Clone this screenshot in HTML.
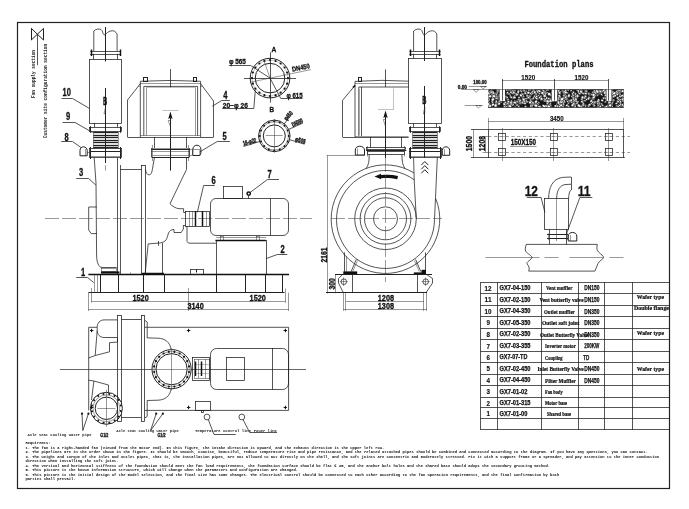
<!DOCTYPE html>
<html><head><meta charset="utf-8"><title>Fan drawing</title>
<style>
html,body{margin:0;padding:0;background:#fff;}
svg{display:block;filter:grayscale(1);}
.m{fill:none;stroke:#1c1c1c;stroke-width:.75;}
.t{fill:none;stroke:#333;stroke-width:.5;}
.g{fill:none;stroke:#777;stroke-width:.45;}
.k{fill:none;stroke:#111;stroke-width:1.5;}
.b{fill:none;stroke:#222;stroke-width:1;}
.c{fill:none;stroke:#444;stroke-width:.55;stroke-dasharray:14 3;}
.f{fill:#111;stroke:none;}
.w{fill:#fff;stroke:none;}
text{font-family:"Liberation Sans",sans-serif;fill:#111;}
.d,.n,.N{stroke:#111;stroke-width:.3;}
.d{font-size:8.2px;font-weight:bold;}
.n{font-size:10px;font-weight:bold;}
.N{font-size:15.4px;font-weight:bold;}
.s{font-family:"Liberation Mono",monospace;font-size:5.2px;fill:#222;font-weight:bold;}
.q{font-family:"Liberation Mono",monospace;font-size:4.4px;fill:#111;font-weight:bold;}
.fp{font-family:"Liberation Mono",monospace;font-size:8.6px;fill:#111;}
.tn{font-size:7.6px;font-weight:bold;stroke:#111;stroke-width:.15;}
.tc{font-size:6.8px;font-weight:bold;stroke:#111;stroke-width:.25;}
.tm{font-family:"Liberation Serif",serif;font-size:5.6px;font-weight:bold;stroke:#111;stroke-width:.2;}
.ts{font-size:5.6px;font-weight:bold;}
</style></head>
<body>
<svg width="689" height="509" viewBox="0 0 689 509">
<rect x="0" y="0" width="689" height="509" fill="#fff"/>
<rect class="b" x="17.5" y="22.5" width="652.0" height="466.0" style="stroke-width:1.2"/>
<line class="b" x1="31.5" y1="28.4" x2="31.5" y2="40.0" />
<line class="b" x1="43.5" y1="28.4" x2="43.5" y2="40.0" />
<line class="b" x1="31.3" y1="28.4" x2="43.5" y2="40.0" />
<line class="b" x1="31.3" y1="40.0" x2="43.5" y2="28.4" />
<text class="s" transform="translate(35,98) rotate(-90)" textLength="48" lengthAdjust="spacingAndGlyphs">Fan supply section</text>
<line class="m" x1="37.5" y1="34.2" x2="37.5" y2="65.2" />
<text class="s" transform="translate(46.6,138.2) rotate(-90)" textLength="94.4" lengthAdjust="spacingAndGlyphs">Customer site configuration section</text>
<path class="m" d="M93.8,51 L93.8,31 C95.5,29 99,28.6 101,29.5 C102.8,30.5 102.6,33.8 104,34.8 C105.5,35.6 106,33.5 107.5,32.5 C109.5,31 112.5,30.2 114.5,31.2 C115.8,32 116.5,33 117.1,34 L117.1,51" />
<line class="m" x1="90.2" y1="51.5" x2="120.9" y2="51.5" />
<line class="m" x1="90.2" y1="54.5" x2="120.9" y2="54.5" />
<line class="k" x1="91.5" y1="49.5" x2="91.5" y2="56.0" />
<line class="k" x1="120.5" y1="49.5" x2="120.5" y2="56.0" />
<line class="m" x1="93.5" y1="53.8" x2="93.5" y2="59.5" />
<line class="m" x1="117.5" y1="53.8" x2="117.5" y2="59.5" />
<rect class="m" x="89.5" y="59.5" width="32.0" height="64.0" />
<line class="b" x1="105.5" y1="27.0" x2="105.5" y2="61.0" />
<line class="b" x1="105.5" y1="88.0" x2="105.5" y2="163.0" />
<line class="t" x1="105.5" y1="165.5" x2="105.5" y2="170.5" />
<line class="t" x1="105.5" y1="60.0" x2="105.5" y2="62.0" />
<text class="n" x="102.9" y="104.5"  textLength="4.2" lengthAdjust="spacingAndGlyphs">B</text>
<path class="t" d="M105.5,107 L104,114 L105.5,113 Z" />
<text class="n" x="62.6" y="96.0"  textLength="8.3" lengthAdjust="spacingAndGlyphs">10</text>
<path class="m" d="M61.5,98.5 L72.5,98.5 L89.5,108.5" />
<text class="n" x="66.1" y="120.0"  textLength="4.2" lengthAdjust="spacingAndGlyphs">9</text>
<path class="m" d="M62.5,122.5 L75.0,122.5 L92.5,132.5" />
<line class="m" x1="94.5" y1="123.0" x2="94.5" y2="127.3" />
<line class="m" x1="117.5" y1="123.0" x2="117.5" y2="127.3" />
<rect class="m" x="89.5" y="127.5" width="32.0" height="4.0" />
<line class="b" x1="90.5" y1="126.3" x2="90.5" y2="132.8" />
<line class="b" x1="120.5" y1="126.3" x2="120.5" y2="132.8" />
<line class="b" x1="93.3" y1="132.5" x2="118.0" y2="132.5" style="stroke-width:1.3"/>
<line class="b" x1="93.3" y1="135.5" x2="118.0" y2="135.5" style="stroke-width:1.3"/>
<line class="b" x1="93.3" y1="137.5" x2="118.0" y2="137.5" style="stroke-width:1.3"/>
<line class="b" x1="93.3" y1="140.5" x2="118.0" y2="140.5" style="stroke-width:1.3"/>
<line class="b" x1="93.3" y1="142.5" x2="118.0" y2="142.5" style="stroke-width:1.3"/>
<line class="b" x1="93.3" y1="145.5" x2="118.0" y2="145.5" style="stroke-width:1.3"/>
<line class="b" x1="93.3" y1="147.5" x2="118.0" y2="147.5" style="stroke-width:1.3"/>
<line class="t" x1="93.5" y1="132.0" x2="93.5" y2="148.5" />
<line class="t" x1="118.5" y1="132.0" x2="118.5" y2="148.5" />
<rect class="m" x="89.5" y="148.5" width="32.0" height="9.0" />
<line class="b" x1="89.9" y1="151.5" x2="121.3" y2="151.5" />
<line class="t" x1="89.9" y1="156.5" x2="121.3" y2="156.5" />
<line class="b" x1="90.5" y1="147.0" x2="90.5" y2="159.0" />
<line class="b" x1="120.5" y1="147.0" x2="120.5" y2="159.0" />
<text class="n" x="64.6" y="140.5"  textLength="4.2" lengthAdjust="spacingAndGlyphs">8</text>
<path class="m" d="M61.2,141.5 L72.5,141.5 L81.0,147.5" />
<path class="b" d="M80,155.8 L80,150.5 C80,145.6 87,145.6 87.2,150.5 L87.2,155.8 Z" />
<line class="t" x1="85.5" y1="149.0" x2="85.5" y2="155.8" />
<line class="t" x1="87.2" y1="152.5" x2="89.9" y2="152.5" />
<path class="m" d="M94.2,157.6 L96,183 L96.6,256 C96.8,262 98.5,267.5 102,267.5 L116.7,267.5" />
<rect class="t" x="101.5" y="268.5" width="15.0" height="3.0" />
<line class="m" x1="117.5" y1="157.6" x2="117.5" y2="274.5" />
<line class="m" x1="120.5" y1="165.0" x2="120.5" y2="274.5" />
<text class="n" x="79.1" y="176.3"  textLength="4.2" lengthAdjust="spacingAndGlyphs">3</text>
<path class="m" d="M76.2,178.5 L88.6,178.5 L95.8,185.0" />
<path class="m" d="M96.7,207 L88.7,207 L88.7,230 L91.2,233.6 L97,233.6" />
<line class="m" x1="120.4" y1="169.5" x2="141.2" y2="169.5" />
<rect class="m" x="141.5" y="165.5" width="4.0" height="109.0" />
<line class="c" x1="45.0" y1="218.5" x2="312.0" y2="218.5" />
<path class="m" d="M140.3,137 L140.3,81.3 Q170.4,79.6 200.6,81.3 L200.6,137" />
<line class="t" x1="140.3" y1="83.5" x2="200.6" y2="83.5" />
<line class="m" x1="127.5" y1="137.5" x2="213.6" y2="137.5" />
<rect class="b" x="143.5" y="77.5" width="4.0" height="4.0" />
<rect class="b" x="193.5" y="77.5" width="3.0" height="4.0" />
<path class="m" d="M143.8,135.7 L143.8,86.4 L197.6,86.4 L197.6,135.7" />
<line class="t" x1="140.3" y1="135.5" x2="200.6" y2="135.5" />
<line class="t" x1="146.5" y1="87.5" x2="146.5" y2="135.7" />
<line class="t" x1="195.5" y1="87.5" x2="195.5" y2="135.7" />
<line class="g" x1="146.0" y1="87.5" x2="195.4" y2="87.5" />
<path class="m" d="M140.3,83.7 L127.5,100.0 L127.5,137.0" />
<path class="m" d="M200.6,83.7 L213.5,101.0 L213.5,137.0" />
<line class="t" x1="138.5" y1="86.5" x2="140.3" y2="86.5" />
<line class="t" x1="200.6" y1="86.5" x2="202.4" y2="86.5" />
<line class="m" x1="170.5" y1="69.0" x2="170.5" y2="87.3" />
<line class="b" x1="170.5" y1="118.0" x2="170.5" y2="170.6" />
<line class="g" x1="162.4" y1="110.5" x2="178.6" y2="110.5" />
<path class="f" d="M170.4,111.5 L168.2,119 L170.4,117.8 L172.6,119 Z" />
<path class="t" d="M170.4,126.5 L168.2,120.5 L170.4,120.5" />
<text class="n" x="223.2" y="98.7"  textLength="4.2" lengthAdjust="spacingAndGlyphs">4</text>
<path class="m" d="M229.8,100.5 L221.8,100.5 L212.3,106.2" />
<line class="m" x1="154.5" y1="137.0" x2="154.5" y2="148.0" />
<line class="m" x1="186.5" y1="137.0" x2="186.5" y2="148.0" />
<line class="t" x1="151.6" y1="148.5" x2="189.4" y2="148.5" />
<line class="b" x1="151.6" y1="149.5" x2="189.4" y2="149.5" />
<line class="t" x1="151.6" y1="151.5" x2="189.4" y2="151.5" />
<line class="t" x1="152.5" y1="155.5" x2="188.5" y2="155.5" />
<line class="b" x1="151.6" y1="157.5" x2="189.4" y2="157.5" />
<line class="m" x1="151.5" y1="148.0" x2="151.5" y2="157.0" />
<line class="m" x1="189.5" y1="148.0" x2="189.5" y2="157.0" />
<line class="t" x1="152.5" y1="145.0" x2="152.5" y2="161.0" />
<line class="t" x1="188.5" y1="145.0" x2="188.5" y2="161.0" />
<path class="b" d="M192.8,155.5 L192.8,149.5 C192.8,143.8 200.9,143.8 200.9,149.5 L200.9,153 L199.8,155.5 Z" />
<path class="t" d="M192.8,149.5 L199.8,149.5 L199.8,155.5" />
<rect class="t" x="189.5" y="149.5" width="3.0" height="6.0" />
<text class="n" x="222.4" y="139.9"  textLength="4.2" lengthAdjust="spacingAndGlyphs">5</text>
<path class="m" d="M229.8,141.5 L217.3,141.5 L199.9,151.8" />
<path class="m" d="M154.5,157 L152.6,168 C152,172.5 151,174.8 149.2,174.8 C146.8,174.8 146,172.5 145.4,169.5" />
<path class="m" d="M186.5,157 L186.5,169.5 L170,203.7 C172,206 176,208.5 179,208.7 L183.6,208.7 L183.6,212.4" />
<line class="m" x1="183.6" y1="212.5" x2="185.5" y2="212.5" />
<line class="m" x1="183.6" y1="225.5" x2="185.5" y2="225.5" />
<rect class="m" x="185.5" y="211.5" width="24.0" height="15.0" />
<line class="k" x1="195.5" y1="211.0" x2="195.5" y2="226.2" />
<line class="k" x1="202.5" y1="211.0" x2="202.5" y2="226.2" />
<line class="t" x1="189.5" y1="211.0" x2="189.5" y2="226.2" />
<line class="t" x1="192.5" y1="211.0" x2="192.5" y2="226.2" />
<line class="t" x1="206.5" y1="211.0" x2="206.5" y2="226.2" />
<text class="n" x="211.6" y="183.7"  textLength="4.2" lengthAdjust="spacingAndGlyphs">6</text>
<path class="m" d="M214.8,185.5 L203.6,185.5 L197.3,212.4" />
<path class="m" d="M183.4,225 L183.4,229 L181.2,232.5 L174,232.5 L174,229.5 C171,229.5 169.5,231 168.5,233 C167.5,236 167,239.5 165,241 C163,242.5 161,242.8 159.5,243 L148.2,243.9 L145.2,273" />
<line class="m" x1="158.5" y1="241.0" x2="158.5" y2="245.8" />
<line class="m" x1="162.5" y1="243.0" x2="162.5" y2="274.5" />
<path class="m" d="M187,226.2 L187,240.6 C187,242.4 188,243.2 190,243.2 L216.2,243.2" />
<rect class="m" x="210.5" y="198.5" width="78.0" height="37.0" rx="5.5" ry="5.5"/>
<line class="m" x1="270.5" y1="198.7" x2="270.5" y2="235.7" />
<rect class="m" x="223.5" y="186.5" width="19.0" height="12.0" />
<circle class="k" cx="248.7" cy="193.6" r="1.7" />
<line class="m" x1="248.5" y1="195.6" x2="248.5" y2="198.7" />
<text class="n" x="267.6" y="178.0"  textLength="4.2" lengthAdjust="spacingAndGlyphs">7</text>
<path class="m" d="M279.0,179.5 L267.5,179.5 L250.2,192.4" />
<line class="t" x1="216.2" y1="237.5" x2="266.1" y2="237.5" />
<rect class="t" x="220.5" y="236.5" width="3.0" height="4.0" />
<rect class="t" x="256.5" y="236.5" width="3.0" height="4.0" />
<rect class="m" x="216.5" y="240.5" width="50.0" height="34.0" />
<line class="k" x1="215.4" y1="240.5" x2="265.8" y2="240.5" />
<text class="n" x="280.4" y="252.9"  textLength="4.2" lengthAdjust="spacingAndGlyphs">2</text>
<path class="m" d="M287.3,254.5 L277.3,254.5 L266.1,258.6" />
<line class="k" x1="88.4" y1="274.5" x2="289.0" y2="274.5" style="stroke-width:1.3"/>
<line class="b" x1="88.4" y1="292.5" x2="284.5" y2="292.5" />
<line class="b" x1="100.5" y1="274.6" x2="100.5" y2="292.8" />
<line class="b" x1="118.5" y1="274.6" x2="118.5" y2="292.8" />
<line class="b" x1="143.5" y1="274.6" x2="143.5" y2="292.8" />
<line class="b" x1="164.5" y1="274.6" x2="164.5" y2="292.8" />
<line class="b" x1="216.5" y1="274.6" x2="216.5" y2="292.8" />
<line class="b" x1="245.5" y1="274.6" x2="245.5" y2="292.8" />
<line class="b" x1="265.5" y1="274.6" x2="265.5" y2="292.8" />
<line class="b" x1="282.5" y1="274.6" x2="282.5" y2="292.8" />
<line class="t" x1="94.5" y1="274.6" x2="94.5" y2="292.8" />
<line class="t" x1="97.5" y1="274.6" x2="97.5" y2="292.8" />
<line class="k" x1="101.0" y1="272.5" x2="119.5" y2="272.5" style="stroke-width:2.2"/>
<line class="k" x1="141.8" y1="273.5" x2="164.0" y2="273.5" />
<rect class="m" x="190.5" y="269.5" width="13.0" height="5.0" />
<line class="b" x1="196.5" y1="269.3" x2="196.5" y2="272.5" />
<line class="t" x1="130.5" y1="272.5" x2="130.5" y2="274.5" />
<text class="n" x="81.1" y="276.2"  textLength="4.2" lengthAdjust="spacingAndGlyphs">1</text>
<path class="m" d="M76.2,277.5 L87.5,277.5 L93.7,282.5" />
<line class="t" x1="88.5" y1="292.8" x2="88.5" y2="311.0" />
<line class="t" x1="91.5" y1="288.0" x2="91.5" y2="302.5" />
<line class="t" x1="188.5" y1="288.0" x2="188.5" y2="311.0" />
<line class="t" x1="285.5" y1="288.5" x2="285.5" y2="302.8" />
<line class="t" x1="288.5" y1="292.6" x2="288.5" y2="311.0" />
<line class="t" x1="91.3" y1="301.5" x2="285.4" y2="301.5" />
<line class="t" x1="88.4" y1="309.5" x2="288.6" y2="309.5" />
<text class="d" x="132.5" y="300.8"  textLength="16.2" lengthAdjust="spacingAndGlyphs">1520</text>
<text class="d" x="249.6" y="300.8"  textLength="16.2" lengthAdjust="spacingAndGlyphs">1520</text>
<text class="d" x="187.5" y="309.0"  textLength="16.2" lengthAdjust="spacingAndGlyphs">3140</text>
<circle class="b" cx="270.0" cy="78.1" r="19.8" />
<circle class="b" cx="270.0" cy="78.1" r="14.8" />
<circle class="g" cx="270.0" cy="78.1" r="17.9" />
<circle class="f" cx="288.0" cy="78.1" r="1.1" />
<circle class="f" cx="287.1" cy="83.7" r="1.1" />
<circle class="f" cx="284.6" cy="88.7" r="1.1" />
<circle class="f" cx="280.6" cy="92.7" r="1.1" />
<circle class="f" cx="275.6" cy="95.2" r="1.1" />
<circle class="f" cx="270.0" cy="96.1" r="1.1" />
<circle class="f" cx="264.4" cy="95.2" r="1.1" />
<circle class="f" cx="259.4" cy="92.7" r="1.1" />
<circle class="f" cx="255.4" cy="88.7" r="1.1" />
<circle class="f" cx="252.9" cy="83.7" r="1.1" />
<circle class="f" cx="252.0" cy="78.1" r="1.1" />
<circle class="f" cx="252.9" cy="72.5" r="1.1" />
<circle class="f" cx="255.4" cy="67.5" r="1.1" />
<circle class="f" cx="259.4" cy="63.5" r="1.1" />
<circle class="f" cx="264.4" cy="61.0" r="1.1" />
<circle class="f" cx="270.0" cy="60.1" r="1.1" />
<circle class="f" cx="275.6" cy="61.0" r="1.1" />
<circle class="f" cx="280.6" cy="63.5" r="1.1" />
<circle class="f" cx="284.6" cy="67.5" r="1.1" />
<circle class="f" cx="287.1" cy="72.5" r="1.1" />
<line class="m" x1="244.0" y1="78.5" x2="296.0" y2="78.5" />
<line class="m" x1="270.5" y1="52.3" x2="270.5" y2="102.6" />
<text class="d" x="271.5" y="52.3" style="font-size:7.8px" textLength="4.8" lengthAdjust="spacingAndGlyphs">A</text>
<text class="d" x="269.6" y="112.4" style="font-size:7.8px" textLength="4.6" lengthAdjust="spacingAndGlyphs">B</text>
<text class="d" x="228.9" y="64.0" style="font-size:7.3px" textLength="17" lengthAdjust="spacingAndGlyphs">φ 565</text>
<path class="m" d="M228.9,65.5 L250.6,65.5 L270.0,78.1" />
<line class="t" x1="250.3" y1="82.2" x2="311.0" y2="69.6" />
<text class="d" style="font-size:7px" transform="translate(292.5,71.8) rotate(-12)" textLength="18" lengthAdjust="spacingAndGlyphs">DN450</text>
<text class="d" x="286.4" y="97.5" style="font-size:7.3px" textLength="16.2" lengthAdjust="spacingAndGlyphs">φ 615</text>
<path class="m" d="M302.5,98.5 L280.8,98.5 L270.0,78.1" />
<line class="t" x1="270.0" y1="78.1" x2="263.8" y2="60.2" />
<text class="d" x="222.8" y="107.7" style="font-size:7.3px" textLength="25" lengthAdjust="spacingAndGlyphs">20−φ 26</text>
<path class="m" d="M222.3,108.5 L253.8,108.5 L255.3,90.4" />
<circle class="b" cx="274.3" cy="135.9" r="15.8" />
<circle class="b" cx="274.3" cy="135.9" r="11.0" />
<circle class="t" cx="274.3" cy="135.9" r="14.3" />
<circle class="f" cx="288.7" cy="135.9" r="1.0" />
<circle class="f" cx="287.6" cy="141.4" r="1.0" />
<circle class="f" cx="284.5" cy="146.1" r="1.0" />
<circle class="f" cx="279.8" cy="149.2" r="1.0" />
<circle class="f" cx="274.3" cy="150.3" r="1.0" />
<circle class="f" cx="268.8" cy="149.2" r="1.0" />
<circle class="f" cx="264.1" cy="146.1" r="1.0" />
<circle class="f" cx="261.0" cy="141.4" r="1.0" />
<circle class="f" cx="259.9" cy="135.9" r="1.0" />
<circle class="f" cx="261.0" cy="130.4" r="1.0" />
<circle class="f" cx="264.1" cy="125.7" r="1.0" />
<circle class="f" cx="268.8" cy="122.6" r="1.0" />
<circle class="f" cx="274.3" cy="121.5" r="1.0" />
<circle class="f" cx="279.8" cy="122.6" r="1.0" />
<circle class="f" cx="284.5" cy="125.7" r="1.0" />
<circle class="f" cx="287.6" cy="130.4" r="1.0" />
<line class="t" x1="265.7" y1="135.5" x2="282.7" y2="135.5" />
<line class="t" x1="274.5" y1="119.0" x2="274.5" y2="152.5" />
<text class="d" style="font-size:6.4px;stroke-width:.4" transform="translate(286.5,121) rotate(-48)" textLength="10" lengthAdjust="spacingAndGlyphs">φ460</text>
<line class="m" x1="284.0" y1="124.0" x2="289.5" y2="117.5" />
<text class="d" style="font-size:6.4px;stroke-width:.4" transform="translate(293,127) rotate(-25)" textLength="11.5" lengthAdjust="spacingAndGlyphs">DN350</text>
<line class="m" x1="288.5" y1="129.5" x2="303.0" y2="123.0" />
<text class="d" style="font-size:6.4px;stroke-width:.4" transform="translate(294.8,141) rotate(16)" textLength="10.5" lengthAdjust="spacingAndGlyphs">φ505</text>
<line class="m" x1="290.0" y1="139.8" x2="304.5" y2="144.2" />
<text class="d" style="font-size:6.4px;stroke-width:.4" transform="translate(243.5,145.5) rotate(-14)" textLength="13.5" lengthAdjust="spacingAndGlyphs">16-φ22</text>
<line class="m" x1="243.5" y1="146.5" x2="259.5" y2="141.5" />
<path class="m" d="M144.9,327.3 L288.6,327.3 L288.6,410.4 L144.9,410.4" />
<path class="m" d="M97,327.3 L88.7,327.3 L88.7,410.4" />
<line class="t" x1="60.0" y1="369.5" x2="306.0" y2="369.5" />
<rect class="m" x="117.5" y="315.5" width="4.0" height="106.0" />
<rect class="m" x="141.5" y="315.5" width="3.0" height="106.0" />
<line class="m" x1="121.2" y1="319.5" x2="141.1" y2="319.5" />
<line class="m" x1="121.2" y1="417.5" x2="141.1" y2="417.5" />
<path class="m" d="M117.4,319.9 L104,319.9 C100,320 97.2,323 97.2,327.2 L97.2,330.7 C97.2,334.5 100,337.4 104,337.5 L117.4,337.5" />
<path class="m" d="M117.5,338.0 L117.5,342.0 L109.5,342.7 L109.5,351.8 L95.2,355.5 L88.5,358.0" />
<line class="m" x1="97.2" y1="330.7" x2="95.2" y2="355.5" />
<path class="m" d="M88.5,380.2 L93.9,381.0 L108.5,385.0 L108.5,393.0" />
<line class="m" x1="93.9" y1="381.0" x2="91.5" y2="400.0" />
<circle class="w" cx="106.4" cy="408.3" r="16.0" />
<circle class="b" cx="106.4" cy="408.3" r="16.0" />
<circle class="t" cx="106.4" cy="408.3" r="13.4" />
<circle class="b" cx="106.4" cy="408.3" r="11.2" />
<circle class="f" cx="120.8" cy="411.1" r="1.0" />
<circle class="f" cx="118.7" cy="416.4" r="1.0" />
<circle class="f" cx="114.6" cy="420.5" r="1.0" />
<circle class="f" cx="109.3" cy="422.7" r="1.0" />
<circle class="f" cx="103.6" cy="422.7" r="1.0" />
<circle class="f" cx="98.3" cy="420.6" r="1.0" />
<circle class="f" cx="94.2" cy="416.5" r="1.0" />
<circle class="f" cx="92.0" cy="411.2" r="1.0" />
<circle class="f" cx="92.0" cy="405.5" r="1.0" />
<circle class="f" cx="94.1" cy="400.2" r="1.0" />
<circle class="f" cx="98.2" cy="396.1" r="1.0" />
<circle class="f" cx="103.5" cy="393.9" r="1.0" />
<circle class="f" cx="109.2" cy="393.9" r="1.0" />
<circle class="f" cx="114.5" cy="396.0" r="1.0" />
<circle class="f" cx="118.6" cy="400.1" r="1.0" />
<circle class="f" cx="120.8" cy="405.4" r="1.0" />
<line class="t" x1="97.4" y1="408.5" x2="115.4" y2="408.5" />
<line class="t" x1="106.5" y1="389.8" x2="106.5" y2="426.8" />
<line class="m" x1="117.5" y1="395.0" x2="117.5" y2="421.0" />
<path class="m" d="M145,320.5 L147.2,322 L147.2,337.9 L158,338.2 C165,338.5 170,342 171.2,349.8" />
<path class="m" d="M145,417.9 L147.2,416.4 L147.2,400.5 L158,400.2 C165,399.9 170,396.4 171.2,388.6" />
<circle class="w" cx="171.6" cy="369.2" r="19.6" />
<circle class="b" cx="171.6" cy="369.2" r="19.6" />
<circle class="b" cx="171.6" cy="369.2" r="15.6" />
<circle class="t" cx="171.6" cy="369.2" r="17.6" />
<circle class="f" cx="189.0" cy="372.0" r="1.1" />
<circle class="f" cx="187.3" cy="377.2" r="1.1" />
<circle class="f" cx="184.0" cy="381.6" r="1.1" />
<circle class="f" cx="179.6" cy="384.9" r="1.1" />
<circle class="f" cx="174.4" cy="386.6" r="1.1" />
<circle class="f" cx="168.8" cy="386.6" r="1.1" />
<circle class="f" cx="163.6" cy="384.9" r="1.1" />
<circle class="f" cx="159.2" cy="381.6" r="1.1" />
<circle class="f" cx="155.9" cy="377.2" r="1.1" />
<circle class="f" cx="154.2" cy="372.0" r="1.1" />
<circle class="f" cx="154.2" cy="366.4" r="1.1" />
<circle class="f" cx="155.9" cy="361.2" r="1.1" />
<circle class="f" cx="159.2" cy="356.8" r="1.1" />
<circle class="f" cx="163.6" cy="353.5" r="1.1" />
<circle class="f" cx="168.8" cy="351.8" r="1.1" />
<circle class="f" cx="174.4" cy="351.8" r="1.1" />
<circle class="f" cx="179.6" cy="353.5" r="1.1" />
<circle class="f" cx="184.0" cy="356.8" r="1.1" />
<circle class="f" cx="187.3" cy="361.2" r="1.1" />
<circle class="f" cx="189.0" cy="366.4" r="1.1" />
<line class="t" x1="171.5" y1="348.2" x2="171.5" y2="390.2" />
<line class="t" x1="60.0" y1="369.5" x2="306.0" y2="369.5" />
<line class="b" x1="90.0" y1="330.5" x2="93.4" y2="330.5" />
<line class="b" x1="91.5" y1="328.8" x2="91.5" y2="332.2" />
<circle class="f" cx="91.7" cy="330.5" r="0.9" />
<line class="b" x1="186.9" y1="330.5" x2="190.3" y2="330.5" />
<line class="b" x1="188.5" y1="328.8" x2="188.5" y2="332.2" />
<circle class="f" cx="188.6" cy="330.5" r="0.9" />
<line class="b" x1="283.6" y1="330.5" x2="287.0" y2="330.5" />
<line class="b" x1="285.5" y1="328.8" x2="285.5" y2="332.2" />
<circle class="f" cx="285.3" cy="330.5" r="0.9" />
<line class="b" x1="186.9" y1="407.5" x2="190.3" y2="407.5" />
<line class="b" x1="188.5" y1="405.7" x2="188.5" y2="409.1" />
<circle class="f" cx="188.6" cy="407.4" r="0.9" />
<line class="b" x1="283.6" y1="407.5" x2="287.0" y2="407.5" />
<line class="b" x1="285.5" y1="405.7" x2="285.5" y2="409.1" />
<circle class="f" cx="285.3" cy="407.4" r="0.9" />
<line class="b" x1="90.0" y1="407.5" x2="93.4" y2="407.5" />
<line class="b" x1="91.5" y1="405.7" x2="91.5" y2="409.1" />
<circle class="f" cx="91.7" cy="407.4" r="0.9" />
<rect class="m" x="192.5" y="357.5" width="17.0" height="23.0" />
<rect class="t" x="194.5" y="359.5" width="15.0" height="19.0" />
<line class="g" x1="194.0" y1="364.5" x2="209.9" y2="364.5" />
<line class="g" x1="194.0" y1="373.5" x2="209.9" y2="373.5" />
<line class="k" x1="195.5" y1="361.5" x2="195.5" y2="376.0" />
<line class="k" x1="201.5" y1="361.5" x2="201.5" y2="376.0" />
<line class="t" x1="198.5" y1="359.2" x2="198.5" y2="378.2" />
<line class="t" x1="205.5" y1="359.2" x2="205.5" y2="378.2" />
<rect class="m" x="210.5" y="348.5" width="78.0" height="41.0" rx="6" ry="6"/>
<line class="m" x1="272.5" y1="348.0" x2="272.5" y2="389.5" />
<rect class="m" x="226.5" y="357.5" width="18.0" height="23.0" />
<rect class="m" x="195.5" y="401.5" width="15.0" height="9.0" />
<rect class="m" x="201.5" y="410.5" width="2.0" height="2.0" />
<circle class="m" cx="207.0" cy="417.0" r="2.9" />
<circle class="m" cx="241.8" cy="417.0" r="2.9" />
<path class="m" d="M208.3,419.6 L214.0,434.5 L235.7,434.5" />
<path class="m" d="M243.1,419.6 L249.7,432.5 L277.0,432.5" />
<circle class="f" cx="82.0" cy="413.7" r="1.1" />
<circle class="f" cx="88.4" cy="413.7" r="1.1" />
<line class="m" x1="82.0" y1="413.7" x2="82.8" y2="430.5" />
<line class="m" x1="88.4" y1="413.7" x2="82.8" y2="430.5" />
<circle class="f" cx="156.2" cy="413.7" r="1.1" />
<circle class="f" cx="162.9" cy="413.7" r="1.1" />
<line class="m" x1="156.2" y1="413.7" x2="150.6" y2="430.5" />
<line class="m" x1="162.9" y1="413.7" x2="150.6" y2="430.5" />
<text class="s" x="27.5" y="436" textLength="64" lengthAdjust="spacingAndGlyphs" style="font-size:4.4px">Axle seat cooling water pipe</text>
<text class="s" x="116.3" y="432.4" textLength="62.4" lengthAdjust="spacingAndGlyphs" style="font-size:4.4px">Axle seat cooling water pipe</text>
<text class="s" x="195" y="431.9" textLength="56" lengthAdjust="spacingAndGlyphs" style="font-size:4.4px">Temperature control line</text>
<text class="s" x="253.8" y="431.7" textLength="23" lengthAdjust="spacingAndGlyphs" style="font-size:4.4px">Power line</text>
<text class="d" x="100.3" y="436.6" style="font-size:4.6px" textLength="8" lengthAdjust="spacingAndGlyphs">G1/2</text>
<text class="d" x="157.5" y="436.6" style="font-size:4.6px" textLength="8" lengthAdjust="spacingAndGlyphs">G1/2</text>
<path class="m" d="M413.6,51 L413.6,31 C415.3,29 418.8,28.6 420.8,29.5 C422.6,30.5 422.4,33.8 423.8,34.8 C425.3,35.6 425.8,33.5 427.3,32.5 C429.3,31 432.3,30.2 434.3,31.2 C435.6,32 436.3,33 436.8,34 L436.8,51" />
<line class="m" x1="409.4" y1="51.5" x2="440.6" y2="51.5" />
<line class="m" x1="409.4" y1="54.5" x2="440.6" y2="54.5" />
<line class="k" x1="410.5" y1="49.5" x2="410.5" y2="56.0" />
<line class="k" x1="439.5" y1="49.5" x2="439.5" y2="56.0" />
<line class="m" x1="413.5" y1="53.8" x2="413.5" y2="58.7" />
<line class="m" x1="436.5" y1="53.8" x2="436.5" y2="58.7" />
<rect class="m" x="408.5" y="58.5" width="33.0" height="65.0" />
<line class="b" x1="424.5" y1="27.0" x2="424.5" y2="61.0" />
<line class="b" x1="424.5" y1="86.0" x2="424.5" y2="158.0" />
<text class="n" x="422.2" y="104.4"  textLength="4.2" lengthAdjust="spacingAndGlyphs">B</text>
<path class="t" d="M424.8,107 L423.3,114 L424.8,113 Z" />
<line class="m" x1="413.5" y1="123.6" x2="413.5" y2="127.3" />
<line class="m" x1="436.5" y1="123.6" x2="436.5" y2="127.3" />
<rect class="m" x="409.5" y="127.5" width="31.0" height="4.0" />
<line class="b" x1="410.5" y1="126.3" x2="410.5" y2="132.8" />
<line class="b" x1="439.5" y1="126.3" x2="439.5" y2="132.8" />
<line class="b" x1="412.6" y1="132.5" x2="437.3" y2="132.5" style="stroke-width:1.3"/>
<line class="b" x1="412.6" y1="135.5" x2="437.3" y2="135.5" style="stroke-width:1.3"/>
<line class="b" x1="412.6" y1="137.5" x2="437.3" y2="137.5" style="stroke-width:1.3"/>
<line class="b" x1="412.6" y1="140.5" x2="437.3" y2="140.5" style="stroke-width:1.3"/>
<line class="b" x1="412.6" y1="142.5" x2="437.3" y2="142.5" style="stroke-width:1.3"/>
<line class="b" x1="412.6" y1="145.5" x2="437.3" y2="145.5" style="stroke-width:1.3"/>
<line class="b" x1="412.6" y1="147.5" x2="437.3" y2="147.5" style="stroke-width:1.3"/>
<line class="t" x1="412.5" y1="132.0" x2="412.5" y2="148.5" />
<line class="t" x1="437.5" y1="132.0" x2="437.5" y2="148.5" />
<rect class="m" x="409.5" y="148.5" width="32.0" height="9.0" />
<line class="b" x1="409.2" y1="151.5" x2="441.0" y2="151.5" />
<line class="t" x1="409.2" y1="156.5" x2="441.0" y2="156.5" />
<line class="b" x1="410.5" y1="147.0" x2="410.5" y2="159.0" />
<line class="b" x1="440.5" y1="147.0" x2="440.5" y2="159.0" />
<path class="b" d="M442.3,155.3 L442.3,150.5 C442.3,145.6 449.5,145.6 449.7,150.5 L449.7,155.3 Z" />
<line class="t" x1="444.5" y1="149.0" x2="444.5" y2="155.3" />
<path class="m" d="M355,137 L355,81.4 Q382,79.4 408.6,81.2" />
<line class="t" x1="355.0" y1="83.5" x2="408.6" y2="83.5" />
<rect class="b" x="358.5" y="77.5" width="3.0" height="4.0" />
<path class="m" d="M408.6,87 L358.8,87 L358.8,136" />
<line class="m" x1="361.5" y1="87.0" x2="361.5" y2="136.0" />
<line class="g" x1="359.5" y1="89.0" x2="359.5" y2="135.0" />
<line class="m" x1="342.5" y1="137.5" x2="408.6" y2="137.5" />
<line class="t" x1="355.0" y1="136.5" x2="408.6" y2="136.5" />
<path class="m" d="M355.0,85.4 L342.5,100.4 L342.5,137.0" />
<line class="k" x1="353.0" y1="87.5" x2="355.0" y2="85.4" />
<path class="g" d="M378.0,109.5 L393.5,109.5 L393.5,88.6" />
<line class="m" x1="385.5" y1="69.4" x2="385.5" y2="87.0" />
<line class="b" x1="385.5" y1="117.0" x2="385.5" y2="158.0" />
<path class="f" d="M385.5,110.5 L383.3,118 L385.5,116.8 L387.7,118 Z" />
<path class="t" d="M385.5,126.5 L383.3,119.5 L385.5,119.5" />
<line class="m" x1="370.5" y1="137.0" x2="370.5" y2="147.5" />
<line class="m" x1="401.5" y1="137.0" x2="401.5" y2="147.5" />
<rect class="m" x="366.5" y="147.5" width="39.0" height="2.0" />
<line class="b" x1="366.0" y1="150.5" x2="406.3" y2="150.5" />
<rect class="m" x="367.5" y="151.5" width="37.0" height="3.0" />
<line class="t" x1="367.5" y1="146.0" x2="367.5" y2="156.5" />
<line class="t" x1="404.5" y1="146.0" x2="404.5" y2="156.5" />
<path class="b" d="M355.3,155 L355.3,150 C355.3,145 364.3,145 364.5,150 L364.5,155 Z" />
<line class="t" x1="357.5" y1="148.5" x2="357.5" y2="155.0" />
<line class="t" x1="326.6" y1="155.5" x2="365.0" y2="155.5" />
<line class="t" x1="327.5" y1="155.5" x2="327.5" y2="293.5" />
<path class="m" d="M369.2,155 L369,160 C368.7,164 367.5,166.5 366,168.5" />
<path class="m" d="M401.9,155 L402.2,160 C402.5,164 403.6,166.5 405,168.5" />
<path class="m" d="M413.9,172.9 A54.3,54.3 0 1 0 435.6,198.3" />
<path class="m" d="M414.4,179.9 A49,49 0 1 0 434.5,219.3 L435.5,198.3" />
<path class="m" d="M413.6,157.6 L414.2,180 L416.3,218.8" />
<path class="m" d="M437.3,157.6 L435.5,198.3" />
<path class="b" d="M421.3,165.1 L424.8,161.5 L428.3,165.1" />
<path class="b" d="M421.3,169.2 L424.8,165.6 L428.3,169.2" />
<path class="b" d="M421.3,173.3 L424.8,169.7 L428.3,173.3" />
<circle class="m" cx="385.5" cy="218.8" r="30.8" />
<circle class="m" cx="385.5" cy="218.8" r="25.4" />
<circle class="m" cx="385.5" cy="218.8" r="21.0" />
<circle class="m" cx="385.5" cy="218.8" r="12.0" />
<path class="f" d="M374.5,176.5 L381,173.8 L381,175.1 C387,174.4 392.5,174.6 398,176 L397.3,179.3 C392,178 387,177.8 381,178.2 L381,179.2 Z" />
<line class="c" x1="385.5" y1="158.0" x2="385.5" y2="282.0" />
<line class="c" x1="331.0" y1="218.5" x2="442.0" y2="218.5" />
<line class="m" x1="344.5" y1="252.4" x2="344.5" y2="272.0" />
<line class="t" x1="346.5" y1="256.0" x2="346.5" y2="272.0" />
<line class="m" x1="425.5" y1="252.4" x2="425.5" y2="270.0" />
<line class="m" x1="356.3" y1="259.4" x2="351.1" y2="271.6" />
<line class="t" x1="357.6" y1="260.4" x2="352.6" y2="271.6" />
<line class="m" x1="415.6" y1="259.4" x2="420.8" y2="271.6" />
<line class="t" x1="414.3" y1="260.4" x2="419.3" y2="271.6" />
<rect class="f" x="343.3" y="271.4" width="13.9" height="3.0" />
<rect class="f" x="413.8" y="272.4" width="12.2" height="2.0" />
<rect class="f" x="421.5" y="269.8" width="4.5" height="4.6" />
<line class="b" x1="335.0" y1="274.5" x2="432.0" y2="274.5" />
<line class="b" x1="326.0" y1="292.5" x2="427.0" y2="292.5" />
<line class="m" x1="352.5" y1="274.7" x2="352.5" y2="292.7" />
<line class="m" x1="417.5" y1="274.7" x2="417.5" y2="292.7" />
<path class="m" d="M342.4,274.7 L338.5,278.5 L338.5,283.0 L343.3,292.7" />
<path class="m" d="M426.9,274.7 L432.5,278.5 L432.5,283.0 L426.0,292.7" />
<circle class="m" cx="343.8" cy="281.7" r="2.8" />
<line class="t" x1="339.8" y1="281.5" x2="347.8" y2="281.5" />
<line class="t" x1="343.5" y1="277.5" x2="343.5" y2="286.0" />
<circle class="m" cx="425.7" cy="281.7" r="2.8" />
<line class="t" x1="421.7" y1="281.5" x2="429.7" y2="281.5" />
<line class="t" x1="425.5" y1="277.5" x2="425.5" y2="286.0" />
<line class="t" x1="335.5" y1="274.7" x2="335.5" y2="293.3" />
<text class="d" transform="translate(327,262.6) rotate(-90)" textLength="15.2" lengthAdjust="spacingAndGlyphs">2161</text>
<text class="d" transform="translate(335,289.5) rotate(-90)" textLength="11.4" lengthAdjust="spacingAndGlyphs">300</text>
<line class="t" x1="343.5" y1="292.7" x2="343.5" y2="310.8" />
<line class="t" x1="345.5" y1="292.7" x2="345.5" y2="310.8" />
<line class="t" x1="423.5" y1="292.7" x2="423.5" y2="310.8" />
<line class="t" x1="426.5" y1="292.7" x2="426.5" y2="310.8" />
<line class="t" x1="345.9" y1="301.5" x2="423.9" y2="301.5" />
<line class="t" x1="343.3" y1="309.5" x2="426.9" y2="309.5" />
<text class="d" x="377.8" y="300.5"  textLength="16.2" lengthAdjust="spacingAndGlyphs">1208</text>
<text class="d" x="377.8" y="308.9"  textLength="16.2" lengthAdjust="spacingAndGlyphs">1308</text>
<text class="fp" x="524.4" y="67.3" textLength="69.2" lengthAdjust="spacingAndGlyphs" style="font-weight:bold;stroke:#111;stroke-width:.3">Foundation plans</text>
<text class="d" x="521.3" y="80.2" style="font-size:7.4px;stroke-width:.15" textLength="13.9" lengthAdjust="spacingAndGlyphs">1520</text>
<text class="d" x="574.5" y="80.2" style="font-size:7.4px;stroke-width:.15" textLength="13.9" lengthAdjust="spacingAndGlyphs">1520</text>
<line class="t" x1="502.0" y1="80.5" x2="608.6" y2="80.5" />
<line class="m" x1="502.5" y1="79.0" x2="502.5" y2="101.5" />
<line class="m" x1="554.5" y1="79.0" x2="554.5" y2="101.5" />
<line class="m" x1="608.5" y1="79.0" x2="608.5" y2="101.5" />
<text class="d" x="473.2" y="84.0" style="font-size:4.8px" textLength="13.4" lengthAdjust="spacingAndGlyphs">100.00</text>
<text class="d" x="457.8" y="89.0" style="font-size:4.8px" textLength="9.2" lengthAdjust="spacingAndGlyphs">0.00</text>
<line class="t" x1="468.6" y1="86.5" x2="487.0" y2="86.5" />
<path class="t" d="M480.5,86.5 L486.0,86.5 L483.2,88.8 Z" />
<line class="t" x1="461.4" y1="89.5" x2="488.2" y2="89.5" />
<path class="t" d="M473.4,89.5 L479.0,89.5 L476.2,92.4 Z" />
<line class="t" x1="464.6" y1="105.5" x2="483.0" y2="105.5" />
<path class="t" d="M475.8,105.5 L481.3,105.5 L478.5,108.0 Z" />
<clipPath id="hc"><rect x="488.2" y="89.2" width="135.7" height="18.299999999999997"/></clipPath>
<rect class="t" x="488.5" y="89.5" width="135.0" height="18.0" style="fill:#181818"/>
<g clip-path="url(#hc)">
<ellipse cx="532.1" cy="92.0" rx="1.5" ry="0.7" transform="rotate(96 532.1 92.0)" fill="#fff" stroke="#111" stroke-width=".45"/>
<ellipse cx="537.8" cy="90.3" rx="1.4" ry="0.6" transform="rotate(78 537.8 90.3)" fill="#fff" stroke="#111" stroke-width=".45"/>
<ellipse cx="497.7" cy="90.9" rx="1.3" ry="1.3" transform="rotate(22 497.7 90.9)" fill="#fff" stroke="#111" stroke-width=".45"/>
<ellipse cx="518.5" cy="100.7" rx="1.9" ry="1.1" transform="rotate(71 518.5 100.7)" fill="#fff" stroke="#111" stroke-width=".45"/>
<ellipse cx="620.7" cy="90.1" rx="1.8" ry="0.9" transform="rotate(26 620.7 90.1)" fill="#fff" stroke="#111" stroke-width=".45"/>
<ellipse cx="504.2" cy="94.8" rx="1.8" ry="0.8" transform="rotate(105 504.2 94.8)" fill="#fff" stroke="#111" stroke-width=".45"/>
<ellipse cx="574.9" cy="96.0" rx="1.4" ry="0.7" transform="rotate(11 574.9 96.0)" fill="#fff" stroke="#111" stroke-width=".45"/>
<ellipse cx="516.1" cy="101.7" rx="1.3" ry="0.9" transform="rotate(105 516.1 101.7)" fill="#fff" stroke="#111" stroke-width=".45"/>
<ellipse cx="549.7" cy="94.7" rx="1.7" ry="1.2" transform="rotate(44 549.7 94.7)" fill="#fff" stroke="#111" stroke-width=".45"/>
<ellipse cx="566.1" cy="98.8" rx="1.8" ry="1.3" transform="rotate(52 566.1 98.8)" fill="#fff" stroke="#111" stroke-width=".45"/>
<ellipse cx="621.2" cy="91.4" rx="1.2" ry="1.3" transform="rotate(27 621.2 91.4)" fill="#fff" stroke="#111" stroke-width=".45"/>
<ellipse cx="554.6" cy="89.9" rx="1.6" ry="1.3" transform="rotate(103 554.6 89.9)" fill="#fff" stroke="#111" stroke-width=".45"/>
<ellipse cx="607.0" cy="94.9" rx="1.6" ry="1.1" transform="rotate(104 607.0 94.9)" fill="#fff" stroke="#111" stroke-width=".45"/>
<ellipse cx="550.1" cy="104.6" rx="1.9" ry="1.0" transform="rotate(120 550.1 104.6)" fill="#fff" stroke="#111" stroke-width=".45"/>
<ellipse cx="496.4" cy="102.0" rx="1.5" ry="1.5" transform="rotate(148 496.4 102.0)" fill="#fff" stroke="#111" stroke-width=".45"/>
<ellipse cx="526.8" cy="96.3" rx="1.6" ry="0.6" transform="rotate(83 526.8 96.3)" fill="#fff" stroke="#111" stroke-width=".45"/>
<ellipse cx="511.0" cy="91.3" rx="0.8" ry="1.3" transform="rotate(23 511.0 91.3)" fill="#fff" stroke="#111" stroke-width=".45"/>
<ellipse cx="521.8" cy="96.4" rx="1.8" ry="0.7" transform="rotate(81 521.8 96.4)" fill="#fff" stroke="#111" stroke-width=".45"/>
<ellipse cx="562.8" cy="105.4" rx="1.8" ry="1.4" transform="rotate(50 562.8 105.4)" fill="#fff" stroke="#111" stroke-width=".45"/>
<ellipse cx="544.6" cy="95.8" rx="1.8" ry="1.5" transform="rotate(27 544.6 95.8)" fill="#fff" stroke="#111" stroke-width=".45"/>
<ellipse cx="512.1" cy="93.4" rx="1.0" ry="1.0" transform="rotate(106 512.1 93.4)" fill="#fff" stroke="#111" stroke-width=".45"/>
<ellipse cx="523.9" cy="89.3" rx="1.2" ry="0.9" transform="rotate(102 523.9 89.3)" fill="#fff" stroke="#111" stroke-width=".45"/>
<ellipse cx="617.5" cy="101.8" rx="1.4" ry="1.2" transform="rotate(122 617.5 101.8)" fill="#fff" stroke="#111" stroke-width=".45"/>
<ellipse cx="495.5" cy="105.7" rx="1.7" ry="1.4" transform="rotate(144 495.5 105.7)" fill="#fff" stroke="#111" stroke-width=".45"/>
<ellipse cx="541.4" cy="96.5" rx="0.8" ry="1.2" transform="rotate(11 541.4 96.5)" fill="#fff" stroke="#111" stroke-width=".45"/>
<ellipse cx="497.3" cy="93.0" rx="0.9" ry="0.9" transform="rotate(9 497.3 93.0)" fill="#fff" stroke="#111" stroke-width=".45"/>
<ellipse cx="488.2" cy="92.0" rx="0.8" ry="0.9" transform="rotate(5 488.2 92.0)" fill="#fff" stroke="#111" stroke-width=".45"/>
<ellipse cx="606.8" cy="100.4" rx="0.9" ry="0.8" transform="rotate(63 606.8 100.4)" fill="#fff" stroke="#111" stroke-width=".45"/>
<ellipse cx="537.6" cy="91.4" rx="1.8" ry="1.5" transform="rotate(84 537.6 91.4)" fill="#fff" stroke="#111" stroke-width=".45"/>
<ellipse cx="553.9" cy="90.8" rx="0.8" ry="0.9" transform="rotate(48 553.9 90.8)" fill="#fff" stroke="#111" stroke-width=".45"/>
<ellipse cx="600.7" cy="92.2" rx="0.7" ry="1.5" transform="rotate(95 600.7 92.2)" fill="#fff" stroke="#111" stroke-width=".45"/>
<ellipse cx="508.1" cy="99.1" rx="0.7" ry="1.1" transform="rotate(176 508.1 99.1)" fill="#fff" stroke="#111" stroke-width=".45"/>
<ellipse cx="605.4" cy="101.9" rx="1.0" ry="0.9" transform="rotate(30 605.4 101.9)" fill="#fff" stroke="#111" stroke-width=".45"/>
<ellipse cx="593.0" cy="98.9" rx="1.7" ry="0.9" transform="rotate(40 593.0 98.9)" fill="#fff" stroke="#111" stroke-width=".45"/>
<ellipse cx="598.3" cy="107.2" rx="1.8" ry="1.3" transform="rotate(147 598.3 107.2)" fill="#fff" stroke="#111" stroke-width=".45"/>
<ellipse cx="588.6" cy="93.3" rx="1.4" ry="0.9" transform="rotate(5 588.6 93.3)" fill="#fff" stroke="#111" stroke-width=".45"/>
<ellipse cx="492.0" cy="94.3" rx="1.0" ry="1.2" transform="rotate(172 492.0 94.3)" fill="#fff" stroke="#111" stroke-width=".45"/>
<ellipse cx="548.9" cy="106.3" rx="2.0" ry="1.5" transform="rotate(66 548.9 106.3)" fill="#fff" stroke="#111" stroke-width=".45"/>
<ellipse cx="518.1" cy="93.4" rx="1.0" ry="0.8" transform="rotate(112 518.1 93.4)" fill="#fff" stroke="#111" stroke-width=".45"/>
<ellipse cx="610.4" cy="104.6" rx="1.3" ry="1.2" transform="rotate(144 610.4 104.6)" fill="#fff" stroke="#111" stroke-width=".45"/>
<ellipse cx="499.7" cy="101.3" rx="1.9" ry="1.3" transform="rotate(135 499.7 101.3)" fill="#fff" stroke="#111" stroke-width=".45"/>
<ellipse cx="553.1" cy="92.5" rx="1.7" ry="0.9" transform="rotate(144 553.1 92.5)" fill="#fff" stroke="#111" stroke-width=".45"/>
<ellipse cx="620.1" cy="96.4" rx="1.2" ry="1.5" transform="rotate(130 620.1 96.4)" fill="#fff" stroke="#111" stroke-width=".45"/>
<ellipse cx="511.3" cy="91.5" rx="0.9" ry="1.4" transform="rotate(145 511.3 91.5)" fill="#fff" stroke="#111" stroke-width=".45"/>
<ellipse cx="508.0" cy="104.3" rx="2.0" ry="1.2" transform="rotate(63 508.0 104.3)" fill="#fff" stroke="#111" stroke-width=".45"/>
<ellipse cx="562.7" cy="91.6" rx="0.7" ry="1.5" transform="rotate(117 562.7 91.6)" fill="#fff" stroke="#111" stroke-width=".45"/>
<ellipse cx="559.7" cy="106.3" rx="1.3" ry="1.4" transform="rotate(149 559.7 106.3)" fill="#fff" stroke="#111" stroke-width=".45"/>
<ellipse cx="516.8" cy="93.8" rx="1.1" ry="0.8" transform="rotate(106 516.8 93.8)" fill="#fff" stroke="#111" stroke-width=".45"/>
<ellipse cx="523.4" cy="96.9" rx="0.9" ry="1.4" transform="rotate(64 523.4 96.9)" fill="#fff" stroke="#111" stroke-width=".45"/>
<ellipse cx="550.4" cy="99.9" rx="1.9" ry="1.0" transform="rotate(165 550.4 99.9)" fill="#fff" stroke="#111" stroke-width=".45"/>
<ellipse cx="556.3" cy="98.9" rx="1.4" ry="0.6" transform="rotate(79 556.3 98.9)" fill="#fff" stroke="#111" stroke-width=".45"/>
<ellipse cx="513.0" cy="89.3" rx="1.7" ry="0.8" transform="rotate(85 513.0 89.3)" fill="#fff" stroke="#111" stroke-width=".45"/>
<ellipse cx="586.6" cy="99.4" rx="1.1" ry="1.1" transform="rotate(100 586.6 99.4)" fill="#fff" stroke="#111" stroke-width=".45"/>
<ellipse cx="594.6" cy="91.1" rx="1.4" ry="0.8" transform="rotate(50 594.6 91.1)" fill="#fff" stroke="#111" stroke-width=".45"/>
<ellipse cx="593.0" cy="98.5" rx="1.4" ry="1.3" transform="rotate(164 593.0 98.5)" fill="#fff" stroke="#111" stroke-width=".45"/>
<ellipse cx="548.3" cy="100.4" rx="1.4" ry="1.1" transform="rotate(125 548.3 100.4)" fill="#fff" stroke="#111" stroke-width=".45"/>
<ellipse cx="549.6" cy="99.0" rx="1.3" ry="1.4" transform="rotate(126 549.6 99.0)" fill="#fff" stroke="#111" stroke-width=".45"/>
<ellipse cx="607.1" cy="106.4" rx="1.0" ry="1.1" transform="rotate(170 607.1 106.4)" fill="#fff" stroke="#111" stroke-width=".45"/>
<ellipse cx="602.2" cy="91.7" rx="0.9" ry="1.0" transform="rotate(13 602.2 91.7)" fill="#fff" stroke="#111" stroke-width=".45"/>
<ellipse cx="520.9" cy="90.5" rx="1.6" ry="1.3" transform="rotate(161 520.9 90.5)" fill="#fff" stroke="#111" stroke-width=".45"/>
<ellipse cx="509.2" cy="102.3" rx="1.6" ry="0.7" transform="rotate(159 509.2 102.3)" fill="#fff" stroke="#111" stroke-width=".45"/>
<ellipse cx="619.5" cy="93.2" rx="1.9" ry="1.0" transform="rotate(88 619.5 93.2)" fill="#fff" stroke="#111" stroke-width=".45"/>
<ellipse cx="622.5" cy="104.4" rx="0.9" ry="1.0" transform="rotate(93 622.5 104.4)" fill="#fff" stroke="#111" stroke-width=".45"/>
<ellipse cx="534.2" cy="92.8" rx="1.1" ry="1.2" transform="rotate(4 534.2 92.8)" fill="#fff" stroke="#111" stroke-width=".45"/>
<ellipse cx="563.4" cy="97.3" rx="0.7" ry="0.9" transform="rotate(112 563.4 97.3)" fill="#fff" stroke="#111" stroke-width=".45"/>
<ellipse cx="557.7" cy="90.4" rx="2.0" ry="1.3" transform="rotate(175 557.7 90.4)" fill="#fff" stroke="#111" stroke-width=".45"/>
<ellipse cx="502.4" cy="94.1" rx="0.8" ry="1.3" transform="rotate(49 502.4 94.1)" fill="#fff" stroke="#111" stroke-width=".45"/>
<ellipse cx="505.8" cy="96.9" rx="1.9" ry="1.3" transform="rotate(47 505.8 96.9)" fill="#fff" stroke="#111" stroke-width=".45"/>
<ellipse cx="508.5" cy="106.0" rx="1.4" ry="1.2" transform="rotate(16 508.5 106.0)" fill="#fff" stroke="#111" stroke-width=".45"/>
<ellipse cx="496.0" cy="101.8" rx="1.3" ry="0.7" transform="rotate(169 496.0 101.8)" fill="#fff" stroke="#111" stroke-width=".45"/>
<ellipse cx="574.3" cy="103.9" rx="0.8" ry="1.4" transform="rotate(12 574.3 103.9)" fill="#fff" stroke="#111" stroke-width=".45"/>
<ellipse cx="605.3" cy="97.5" rx="1.1" ry="1.1" transform="rotate(167 605.3 97.5)" fill="#fff" stroke="#111" stroke-width=".45"/>
<ellipse cx="524.5" cy="91.6" rx="1.4" ry="0.8" transform="rotate(20 524.5 91.6)" fill="#fff" stroke="#111" stroke-width=".45"/>
<ellipse cx="510.1" cy="90.1" rx="1.0" ry="0.9" transform="rotate(55 510.1 90.1)" fill="#fff" stroke="#111" stroke-width=".45"/>
<ellipse cx="591.3" cy="94.5" rx="1.4" ry="0.8" transform="rotate(62 591.3 94.5)" fill="#fff" stroke="#111" stroke-width=".45"/>
<ellipse cx="490.7" cy="93.8" rx="0.7" ry="1.3" transform="rotate(99 490.7 93.8)" fill="#fff" stroke="#111" stroke-width=".45"/>
<ellipse cx="513.9" cy="97.9" rx="1.9" ry="0.7" transform="rotate(147 513.9 97.9)" fill="#fff" stroke="#111" stroke-width=".45"/>
<ellipse cx="546.8" cy="98.3" rx="1.8" ry="1.0" transform="rotate(91 546.8 98.3)" fill="#fff" stroke="#111" stroke-width=".45"/>
<ellipse cx="581.5" cy="107.2" rx="1.1" ry="1.3" transform="rotate(127 581.5 107.2)" fill="#fff" stroke="#111" stroke-width=".45"/>
<ellipse cx="574.5" cy="96.6" rx="1.2" ry="0.6" transform="rotate(23 574.5 96.6)" fill="#fff" stroke="#111" stroke-width=".45"/>
<ellipse cx="497.8" cy="102.8" rx="1.0" ry="0.7" transform="rotate(15 497.8 102.8)" fill="#fff" stroke="#111" stroke-width=".45"/>
<ellipse cx="602.4" cy="105.1" rx="1.6" ry="0.9" transform="rotate(44 602.4 105.1)" fill="#fff" stroke="#111" stroke-width=".45"/>
<ellipse cx="528.0" cy="97.6" rx="0.9" ry="1.0" transform="rotate(47 528.0 97.6)" fill="#fff" stroke="#111" stroke-width=".45"/>
<ellipse cx="618.7" cy="107.0" rx="1.4" ry="0.8" transform="rotate(174 618.7 107.0)" fill="#fff" stroke="#111" stroke-width=".45"/>
<ellipse cx="530.2" cy="95.7" rx="0.7" ry="0.9" transform="rotate(85 530.2 95.7)" fill="#fff" stroke="#111" stroke-width=".45"/>
<ellipse cx="556.4" cy="92.9" rx="1.4" ry="0.6" transform="rotate(48 556.4 92.9)" fill="#fff" stroke="#111" stroke-width=".45"/>
<ellipse cx="500.4" cy="96.5" rx="0.8" ry="0.6" transform="rotate(55 500.4 96.5)" fill="#fff" stroke="#111" stroke-width=".45"/>
<ellipse cx="519.8" cy="99.9" rx="1.4" ry="1.3" transform="rotate(118 519.8 99.9)" fill="#fff" stroke="#111" stroke-width=".45"/>
<ellipse cx="585.4" cy="105.3" rx="1.2" ry="0.9" transform="rotate(177 585.4 105.3)" fill="#fff" stroke="#111" stroke-width=".45"/>
<ellipse cx="508.5" cy="102.5" rx="1.5" ry="0.6" transform="rotate(150 508.5 102.5)" fill="#fff" stroke="#111" stroke-width=".45"/>
<ellipse cx="609.2" cy="100.7" rx="1.7" ry="1.3" transform="rotate(25 609.2 100.7)" fill="#fff" stroke="#111" stroke-width=".45"/>
<ellipse cx="559.3" cy="98.4" rx="1.8" ry="1.3" transform="rotate(149 559.3 98.4)" fill="#fff" stroke="#111" stroke-width=".45"/>
<ellipse cx="567.5" cy="105.5" rx="1.6" ry="1.2" transform="rotate(41 567.5 105.5)" fill="#fff" stroke="#111" stroke-width=".45"/>
<ellipse cx="492.4" cy="91.6" rx="1.2" ry="0.7" transform="rotate(150 492.4 91.6)" fill="#fff" stroke="#111" stroke-width=".45"/>
<ellipse cx="564.0" cy="100.7" rx="1.5" ry="1.2" transform="rotate(88 564.0 100.7)" fill="#fff" stroke="#111" stroke-width=".45"/>
<ellipse cx="488.6" cy="103.8" rx="1.7" ry="1.1" transform="rotate(96 488.6 103.8)" fill="#fff" stroke="#111" stroke-width=".45"/>
<ellipse cx="577.7" cy="90.4" rx="1.7" ry="0.8" transform="rotate(13 577.7 90.4)" fill="#fff" stroke="#111" stroke-width=".45"/>
<ellipse cx="524.2" cy="102.5" rx="1.0" ry="1.3" transform="rotate(176 524.2 102.5)" fill="#fff" stroke="#111" stroke-width=".45"/>
<ellipse cx="555.2" cy="96.2" rx="1.3" ry="1.2" transform="rotate(138 555.2 96.2)" fill="#fff" stroke="#111" stroke-width=".45"/>
<ellipse cx="571.9" cy="101.0" rx="0.8" ry="0.7" transform="rotate(46 571.9 101.0)" fill="#fff" stroke="#111" stroke-width=".45"/>
<ellipse cx="589.1" cy="94.8" rx="1.4" ry="0.6" transform="rotate(11 589.1 94.8)" fill="#fff" stroke="#111" stroke-width=".45"/>
<ellipse cx="524.7" cy="101.5" rx="1.6" ry="1.2" transform="rotate(52 524.7 101.5)" fill="#fff" stroke="#111" stroke-width=".45"/>
<ellipse cx="558.3" cy="97.7" rx="1.3" ry="0.7" transform="rotate(161 558.3 97.7)" fill="#fff" stroke="#111" stroke-width=".45"/>
<ellipse cx="515.2" cy="107.1" rx="1.9" ry="0.6" transform="rotate(83 515.2 107.1)" fill="#fff" stroke="#111" stroke-width=".45"/>
<ellipse cx="599.5" cy="106.9" rx="1.3" ry="0.8" transform="rotate(38 599.5 106.9)" fill="#fff" stroke="#111" stroke-width=".45"/>
<ellipse cx="616.5" cy="93.1" rx="1.5" ry="0.7" transform="rotate(94 616.5 93.1)" fill="#fff" stroke="#111" stroke-width=".45"/>
<ellipse cx="617.5" cy="91.6" rx="1.8" ry="1.1" transform="rotate(160 617.5 91.6)" fill="#fff" stroke="#111" stroke-width=".45"/>
<ellipse cx="583.6" cy="93.4" rx="1.9" ry="1.0" transform="rotate(4 583.6 93.4)" fill="#fff" stroke="#111" stroke-width=".45"/>
<ellipse cx="488.7" cy="98.2" rx="1.3" ry="0.9" transform="rotate(25 488.7 98.2)" fill="#fff" stroke="#111" stroke-width=".45"/>
<ellipse cx="534.9" cy="95.0" rx="1.8" ry="0.6" transform="rotate(135 534.9 95.0)" fill="#fff" stroke="#111" stroke-width=".45"/>
<ellipse cx="602.1" cy="91.4" rx="1.9" ry="1.2" transform="rotate(162 602.1 91.4)" fill="#fff" stroke="#111" stroke-width=".45"/>
<ellipse cx="527.5" cy="96.0" rx="1.2" ry="1.5" transform="rotate(106 527.5 96.0)" fill="#fff" stroke="#111" stroke-width=".45"/>
<ellipse cx="537.1" cy="97.0" rx="1.1" ry="0.6" transform="rotate(18 537.1 97.0)" fill="#fff" stroke="#111" stroke-width=".45"/>
<ellipse cx="601.5" cy="94.4" rx="1.9" ry="0.8" transform="rotate(48 601.5 94.4)" fill="#fff" stroke="#111" stroke-width=".45"/>
<ellipse cx="557.5" cy="92.7" rx="1.2" ry="1.5" transform="rotate(159 557.5 92.7)" fill="#fff" stroke="#111" stroke-width=".45"/>
<ellipse cx="598.4" cy="100.7" rx="1.9" ry="1.4" transform="rotate(99 598.4 100.7)" fill="#fff" stroke="#111" stroke-width=".45"/>
<ellipse cx="585.8" cy="90.1" rx="1.7" ry="1.0" transform="rotate(135 585.8 90.1)" fill="#fff" stroke="#111" stroke-width=".45"/>
<ellipse cx="575.7" cy="94.4" rx="0.8" ry="1.4" transform="rotate(23 575.7 94.4)" fill="#fff" stroke="#111" stroke-width=".45"/>
<ellipse cx="552.3" cy="95.5" rx="1.1" ry="1.3" transform="rotate(176 552.3 95.5)" fill="#fff" stroke="#111" stroke-width=".45"/>
<ellipse cx="523.5" cy="101.2" rx="1.1" ry="1.1" transform="rotate(71 523.5 101.2)" fill="#fff" stroke="#111" stroke-width=".45"/>
<ellipse cx="510.9" cy="92.2" rx="1.0" ry="1.4" transform="rotate(89 510.9 92.2)" fill="#fff" stroke="#111" stroke-width=".45"/>
<ellipse cx="518.1" cy="105.8" rx="2.0" ry="1.0" transform="rotate(25 518.1 105.8)" fill="#fff" stroke="#111" stroke-width=".45"/>
<ellipse cx="514.3" cy="90.9" rx="1.1" ry="0.7" transform="rotate(43 514.3 90.9)" fill="#fff" stroke="#111" stroke-width=".45"/>
<ellipse cx="523.3" cy="99.6" rx="1.9" ry="1.3" transform="rotate(74 523.3 99.6)" fill="#fff" stroke="#111" stroke-width=".45"/>
<ellipse cx="544.4" cy="98.8" rx="1.2" ry="0.9" transform="rotate(11 544.4 98.8)" fill="#fff" stroke="#111" stroke-width=".45"/>
<ellipse cx="525.9" cy="106.9" rx="0.9" ry="1.1" transform="rotate(113 525.9 106.9)" fill="#fff" stroke="#111" stroke-width=".45"/>
<ellipse cx="605.3" cy="93.2" rx="1.1" ry="0.8" transform="rotate(72 605.3 93.2)" fill="#fff" stroke="#111" stroke-width=".45"/>
<ellipse cx="548.7" cy="106.7" rx="1.8" ry="1.4" transform="rotate(4 548.7 106.7)" fill="#fff" stroke="#111" stroke-width=".45"/>
<ellipse cx="492.6" cy="102.2" rx="1.9" ry="1.0" transform="rotate(106 492.6 102.2)" fill="#fff" stroke="#111" stroke-width=".45"/>
<ellipse cx="488.2" cy="96.4" rx="1.9" ry="1.3" transform="rotate(154 488.2 96.4)" fill="#fff" stroke="#111" stroke-width=".45"/>
<ellipse cx="620.1" cy="93.7" rx="0.8" ry="0.7" transform="rotate(94 620.1 93.7)" fill="#fff" stroke="#111" stroke-width=".45"/>
<ellipse cx="580.8" cy="106.4" rx="1.6" ry="1.2" transform="rotate(138 580.8 106.4)" fill="#fff" stroke="#111" stroke-width=".45"/>
<ellipse cx="550.3" cy="99.3" rx="0.8" ry="1.3" transform="rotate(42 550.3 99.3)" fill="#fff" stroke="#111" stroke-width=".45"/>
<ellipse cx="613.0" cy="101.0" rx="1.1" ry="0.7" transform="rotate(45 613.0 101.0)" fill="#fff" stroke="#111" stroke-width=".45"/>
<ellipse cx="574.5" cy="102.0" rx="0.8" ry="0.7" transform="rotate(94 574.5 102.0)" fill="#fff" stroke="#111" stroke-width=".45"/>
<ellipse cx="567.3" cy="96.3" rx="1.0" ry="1.1" transform="rotate(2 567.3 96.3)" fill="#fff" stroke="#111" stroke-width=".45"/>
<ellipse cx="529.1" cy="97.6" rx="1.9" ry="1.2" transform="rotate(159 529.1 97.6)" fill="#fff" stroke="#111" stroke-width=".45"/>
<ellipse cx="552.7" cy="93.5" rx="1.0" ry="1.5" transform="rotate(127 552.7 93.5)" fill="#fff" stroke="#111" stroke-width=".45"/>
<ellipse cx="529.9" cy="89.6" rx="1.3" ry="1.2" transform="rotate(76 529.9 89.6)" fill="#fff" stroke="#111" stroke-width=".45"/>
<ellipse cx="523.1" cy="101.4" rx="1.9" ry="0.8" transform="rotate(6 523.1 101.4)" fill="#fff" stroke="#111" stroke-width=".45"/>
<ellipse cx="534.1" cy="96.9" rx="1.6" ry="0.8" transform="rotate(143 534.1 96.9)" fill="#fff" stroke="#111" stroke-width=".45"/>
<ellipse cx="588.5" cy="98.4" rx="1.0" ry="1.5" transform="rotate(56 588.5 98.4)" fill="#fff" stroke="#111" stroke-width=".45"/>
<ellipse cx="599.5" cy="93.4" rx="1.0" ry="1.3" transform="rotate(53 599.5 93.4)" fill="#fff" stroke="#111" stroke-width=".45"/>
<ellipse cx="617.4" cy="98.3" rx="0.9" ry="0.8" transform="rotate(75 617.4 98.3)" fill="#fff" stroke="#111" stroke-width=".45"/>
<ellipse cx="578.5" cy="106.6" rx="0.9" ry="1.0" transform="rotate(38 578.5 106.6)" fill="#fff" stroke="#111" stroke-width=".45"/>
<ellipse cx="620.4" cy="91.8" rx="0.8" ry="0.7" transform="rotate(71 620.4 91.8)" fill="#fff" stroke="#111" stroke-width=".45"/>
<ellipse cx="610.1" cy="105.4" rx="1.7" ry="1.5" transform="rotate(168 610.1 105.4)" fill="#fff" stroke="#111" stroke-width=".45"/>
<ellipse cx="532.9" cy="92.6" rx="1.9" ry="1.3" transform="rotate(6 532.9 92.6)" fill="#fff" stroke="#111" stroke-width=".45"/>
<ellipse cx="578.4" cy="96.1" rx="1.2" ry="0.9" transform="rotate(30 578.4 96.1)" fill="#fff" stroke="#111" stroke-width=".45"/>
<ellipse cx="488.6" cy="94.3" rx="1.2" ry="1.5" transform="rotate(22 488.6 94.3)" fill="#fff" stroke="#111" stroke-width=".45"/>
<ellipse cx="619.1" cy="93.0" rx="1.2" ry="1.3" transform="rotate(148 619.1 93.0)" fill="#fff" stroke="#111" stroke-width=".45"/>
<ellipse cx="546.9" cy="90.1" rx="1.3" ry="0.9" transform="rotate(166 546.9 90.1)" fill="#fff" stroke="#111" stroke-width=".45"/>
<ellipse cx="514.4" cy="95.9" rx="1.9" ry="0.6" transform="rotate(74 514.4 95.9)" fill="#fff" stroke="#111" stroke-width=".45"/>
<ellipse cx="598.4" cy="103.2" rx="0.8" ry="0.6" transform="rotate(11 598.4 103.2)" fill="#fff" stroke="#111" stroke-width=".45"/>
<ellipse cx="613.1" cy="93.9" rx="1.7" ry="1.4" transform="rotate(61 613.1 93.9)" fill="#fff" stroke="#111" stroke-width=".45"/>
<ellipse cx="525.2" cy="106.7" rx="1.5" ry="0.8" transform="rotate(129 525.2 106.7)" fill="#fff" stroke="#111" stroke-width=".45"/>
<ellipse cx="531.1" cy="94.2" rx="0.7" ry="1.3" transform="rotate(165 531.1 94.2)" fill="#fff" stroke="#111" stroke-width=".45"/>
<ellipse cx="574.2" cy="106.5" rx="0.7" ry="0.8" transform="rotate(86 574.2 106.5)" fill="#fff" stroke="#111" stroke-width=".45"/>
<ellipse cx="618.0" cy="106.7" rx="1.2" ry="0.8" transform="rotate(77 618.0 106.7)" fill="#fff" stroke="#111" stroke-width=".45"/>
<ellipse cx="555.2" cy="106.2" rx="0.9" ry="1.3" transform="rotate(133 555.2 106.2)" fill="#fff" stroke="#111" stroke-width=".45"/>
<ellipse cx="599.8" cy="103.3" rx="1.5" ry="0.9" transform="rotate(58 599.8 103.3)" fill="#fff" stroke="#111" stroke-width=".45"/>
<ellipse cx="537.3" cy="103.5" rx="0.8" ry="0.8" transform="rotate(136 537.3 103.5)" fill="#fff" stroke="#111" stroke-width=".45"/>
<ellipse cx="521.8" cy="90.4" rx="0.7" ry="1.1" transform="rotate(59 521.8 90.4)" fill="#fff" stroke="#111" stroke-width=".45"/>
<ellipse cx="621.2" cy="105.4" rx="2.0" ry="0.8" transform="rotate(15 621.2 105.4)" fill="#fff" stroke="#111" stroke-width=".45"/>
<ellipse cx="501.3" cy="98.3" rx="1.6" ry="1.0" transform="rotate(42 501.3 98.3)" fill="#fff" stroke="#111" stroke-width=".45"/>
<ellipse cx="544.8" cy="100.6" rx="1.6" ry="1.3" transform="rotate(152 544.8 100.6)" fill="#fff" stroke="#111" stroke-width=".45"/>
<ellipse cx="578.4" cy="91.4" rx="1.8" ry="0.9" transform="rotate(102 578.4 91.4)" fill="#fff" stroke="#111" stroke-width=".45"/>
<ellipse cx="538.8" cy="102.7" rx="1.0" ry="0.8" transform="rotate(44 538.8 102.7)" fill="#fff" stroke="#111" stroke-width=".45"/>
<ellipse cx="509.0" cy="105.4" rx="1.5" ry="0.9" transform="rotate(71 509.0 105.4)" fill="#fff" stroke="#111" stroke-width=".45"/>
<ellipse cx="622.9" cy="98.5" rx="1.0" ry="1.3" transform="rotate(118 622.9 98.5)" fill="#fff" stroke="#111" stroke-width=".45"/>
<ellipse cx="622.7" cy="91.1" rx="1.3" ry="1.3" transform="rotate(151 622.7 91.1)" fill="#fff" stroke="#111" stroke-width=".45"/>
<ellipse cx="612.3" cy="89.9" rx="1.1" ry="0.7" transform="rotate(34 612.3 89.9)" fill="#fff" stroke="#111" stroke-width=".45"/>
<ellipse cx="620.2" cy="99.9" rx="1.9" ry="0.9" transform="rotate(156 620.2 99.9)" fill="#fff" stroke="#111" stroke-width=".45"/>
<ellipse cx="549.1" cy="94.0" rx="1.7" ry="1.5" transform="rotate(19 549.1 94.0)" fill="#fff" stroke="#111" stroke-width=".45"/>
<ellipse cx="569.1" cy="100.5" rx="1.0" ry="0.9" transform="rotate(25 569.1 100.5)" fill="#fff" stroke="#111" stroke-width=".45"/>
<ellipse cx="515.9" cy="93.9" rx="1.5" ry="1.2" transform="rotate(37 515.9 93.9)" fill="#fff" stroke="#111" stroke-width=".45"/>
<ellipse cx="489.7" cy="95.2" rx="1.6" ry="0.8" transform="rotate(56 489.7 95.2)" fill="#fff" stroke="#111" stroke-width=".45"/>
<ellipse cx="515.8" cy="103.8" rx="1.4" ry="0.7" transform="rotate(18 515.8 103.8)" fill="#fff" stroke="#111" stroke-width=".45"/>
<ellipse cx="541.8" cy="99.3" rx="1.5" ry="0.7" transform="rotate(29 541.8 99.3)" fill="#fff" stroke="#111" stroke-width=".45"/>
<ellipse cx="582.6" cy="96.7" rx="1.1" ry="0.9" transform="rotate(172 582.6 96.7)" fill="#fff" stroke="#111" stroke-width=".45"/>
<ellipse cx="530.6" cy="99.6" rx="1.2" ry="1.0" transform="rotate(156 530.6 99.6)" fill="#fff" stroke="#111" stroke-width=".45"/>
<ellipse cx="623.4" cy="95.9" rx="1.0" ry="1.3" transform="rotate(37 623.4 95.9)" fill="#fff" stroke="#111" stroke-width=".45"/>
<ellipse cx="489.0" cy="105.7" rx="1.3" ry="1.3" transform="rotate(73 489.0 105.7)" fill="#fff" stroke="#111" stroke-width=".45"/>
<ellipse cx="608.0" cy="97.6" rx="0.9" ry="0.6" transform="rotate(99 608.0 97.6)" fill="#fff" stroke="#111" stroke-width=".45"/>
<ellipse cx="575.1" cy="105.8" rx="0.8" ry="1.2" transform="rotate(67 575.1 105.8)" fill="#fff" stroke="#111" stroke-width=".45"/>
<ellipse cx="556.7" cy="91.9" rx="1.1" ry="1.1" transform="rotate(167 556.7 91.9)" fill="#fff" stroke="#111" stroke-width=".45"/>
<ellipse cx="503.0" cy="98.2" rx="1.7" ry="1.5" transform="rotate(36 503.0 98.2)" fill="#fff" stroke="#111" stroke-width=".45"/>
<ellipse cx="505.4" cy="106.5" rx="2.0" ry="1.0" transform="rotate(10 505.4 106.5)" fill="#fff" stroke="#111" stroke-width=".45"/>
<ellipse cx="613.9" cy="96.3" rx="1.9" ry="1.2" transform="rotate(148 613.9 96.3)" fill="#fff" stroke="#111" stroke-width=".45"/>
<ellipse cx="509.9" cy="103.6" rx="1.0" ry="1.0" transform="rotate(152 509.9 103.6)" fill="#fff" stroke="#111" stroke-width=".45"/>
<ellipse cx="600.7" cy="92.5" rx="1.0" ry="1.0" transform="rotate(93 600.7 92.5)" fill="#fff" stroke="#111" stroke-width=".45"/>
<ellipse cx="540.3" cy="91.5" rx="1.0" ry="1.3" transform="rotate(162 540.3 91.5)" fill="#fff" stroke="#111" stroke-width=".45"/>
<ellipse cx="493.8" cy="99.5" rx="1.7" ry="0.6" transform="rotate(151 493.8 99.5)" fill="#fff" stroke="#111" stroke-width=".45"/>
<ellipse cx="504.2" cy="100.2" rx="1.4" ry="1.2" transform="rotate(55 504.2 100.2)" fill="#fff" stroke="#111" stroke-width=".45"/>
<ellipse cx="545.2" cy="99.9" rx="1.3" ry="1.2" transform="rotate(80 545.2 99.9)" fill="#fff" stroke="#111" stroke-width=".45"/>
<ellipse cx="547.7" cy="89.6" rx="1.5" ry="1.0" transform="rotate(42 547.7 89.6)" fill="#fff" stroke="#111" stroke-width=".45"/>
<ellipse cx="591.8" cy="103.5" rx="1.3" ry="0.8" transform="rotate(85 591.8 103.5)" fill="#fff" stroke="#111" stroke-width=".45"/>
<ellipse cx="502.7" cy="91.6" rx="1.3" ry="0.7" transform="rotate(80 502.7 91.6)" fill="#fff" stroke="#111" stroke-width=".45"/>
<ellipse cx="557.4" cy="89.9" rx="1.5" ry="0.7" transform="rotate(132 557.4 89.9)" fill="#fff" stroke="#111" stroke-width=".45"/>
<ellipse cx="593.7" cy="98.6" rx="0.8" ry="1.1" transform="rotate(68 593.7 98.6)" fill="#fff" stroke="#111" stroke-width=".45"/>
<ellipse cx="617.2" cy="91.7" rx="1.8" ry="1.5" transform="rotate(132 617.2 91.7)" fill="#fff" stroke="#111" stroke-width=".45"/>
<ellipse cx="598.8" cy="92.7" rx="2.0" ry="1.0" transform="rotate(172 598.8 92.7)" fill="#fff" stroke="#111" stroke-width=".45"/>
<ellipse cx="612.5" cy="92.2" rx="1.7" ry="1.4" transform="rotate(12 612.5 92.2)" fill="#fff" stroke="#111" stroke-width=".45"/>
<ellipse cx="535.8" cy="103.0" rx="0.9" ry="1.4" transform="rotate(49 535.8 103.0)" fill="#fff" stroke="#111" stroke-width=".45"/>
<ellipse cx="598.9" cy="91.8" rx="1.4" ry="1.4" transform="rotate(37 598.9 91.8)" fill="#fff" stroke="#111" stroke-width=".45"/>
<ellipse cx="523.9" cy="98.5" rx="1.1" ry="0.6" transform="rotate(33 523.9 98.5)" fill="#fff" stroke="#111" stroke-width=".45"/>
<ellipse cx="510.1" cy="106.3" rx="1.6" ry="1.4" transform="rotate(30 510.1 106.3)" fill="#fff" stroke="#111" stroke-width=".45"/>
<ellipse cx="594.7" cy="91.3" rx="1.4" ry="1.2" transform="rotate(65 594.7 91.3)" fill="#fff" stroke="#111" stroke-width=".45"/>
<ellipse cx="606.7" cy="99.4" rx="1.5" ry="1.4" transform="rotate(19 606.7 99.4)" fill="#fff" stroke="#111" stroke-width=".45"/>
<ellipse cx="622.9" cy="100.7" rx="1.2" ry="1.3" transform="rotate(48 622.9 100.7)" fill="#fff" stroke="#111" stroke-width=".45"/>
<ellipse cx="622.6" cy="99.8" rx="1.2" ry="1.3" transform="rotate(80 622.6 99.8)" fill="#fff" stroke="#111" stroke-width=".45"/>
<ellipse cx="512.2" cy="102.8" rx="0.8" ry="1.3" transform="rotate(46 512.2 102.8)" fill="#fff" stroke="#111" stroke-width=".45"/>
<ellipse cx="574.9" cy="107.2" rx="1.5" ry="1.2" transform="rotate(56 574.9 107.2)" fill="#fff" stroke="#111" stroke-width=".45"/>
<ellipse cx="488.4" cy="89.8" rx="0.9" ry="1.2" transform="rotate(78 488.4 89.8)" fill="#fff" stroke="#111" stroke-width=".45"/>
<ellipse cx="557.8" cy="105.6" rx="0.9" ry="0.8" transform="rotate(118 557.8 105.6)" fill="#fff" stroke="#111" stroke-width=".45"/>
<ellipse cx="491.2" cy="89.2" rx="1.2" ry="0.7" transform="rotate(64 491.2 89.2)" fill="#fff" stroke="#111" stroke-width=".45"/>
<ellipse cx="518.6" cy="99.9" rx="1.5" ry="0.8" transform="rotate(112 518.6 99.9)" fill="#fff" stroke="#111" stroke-width=".45"/>
<ellipse cx="552.6" cy="91.7" rx="1.9" ry="0.8" transform="rotate(27 552.6 91.7)" fill="#fff" stroke="#111" stroke-width=".45"/>
<ellipse cx="501.2" cy="100.9" rx="1.8" ry="1.3" transform="rotate(72 501.2 100.9)" fill="#fff" stroke="#111" stroke-width=".45"/>
<ellipse cx="524.1" cy="89.4" rx="1.5" ry="1.1" transform="rotate(63 524.1 89.4)" fill="#fff" stroke="#111" stroke-width=".45"/>
<ellipse cx="575.8" cy="97.3" rx="1.9" ry="1.3" transform="rotate(45 575.8 97.3)" fill="#fff" stroke="#111" stroke-width=".45"/>
<ellipse cx="610.8" cy="90.0" rx="1.4" ry="1.0" transform="rotate(43 610.8 90.0)" fill="#fff" stroke="#111" stroke-width=".45"/>
<ellipse cx="496.1" cy="103.5" rx="0.7" ry="1.1" transform="rotate(169 496.1 103.5)" fill="#fff" stroke="#111" stroke-width=".45"/>
<ellipse cx="507.5" cy="92.9" rx="1.5" ry="1.1" transform="rotate(115 507.5 92.9)" fill="#fff" stroke="#111" stroke-width=".45"/>
<ellipse cx="598.6" cy="92.4" rx="1.1" ry="0.9" transform="rotate(9 598.6 92.4)" fill="#fff" stroke="#111" stroke-width=".45"/>
<ellipse cx="608.9" cy="103.5" rx="1.6" ry="0.6" transform="rotate(152 608.9 103.5)" fill="#fff" stroke="#111" stroke-width=".45"/>
<ellipse cx="589.3" cy="97.7" rx="1.7" ry="1.0" transform="rotate(41 589.3 97.7)" fill="#fff" stroke="#111" stroke-width=".45"/>
<ellipse cx="502.5" cy="93.5" rx="0.8" ry="0.9" transform="rotate(135 502.5 93.5)" fill="#fff" stroke="#111" stroke-width=".45"/>
<ellipse cx="582.5" cy="104.7" rx="1.6" ry="0.8" transform="rotate(100 582.5 104.7)" fill="#fff" stroke="#111" stroke-width=".45"/>
<ellipse cx="547.4" cy="103.6" rx="1.4" ry="0.8" transform="rotate(116 547.4 103.6)" fill="#fff" stroke="#111" stroke-width=".45"/>
<ellipse cx="619.2" cy="93.2" rx="1.8" ry="0.6" transform="rotate(47 619.2 93.2)" fill="#fff" stroke="#111" stroke-width=".45"/>
<ellipse cx="520.2" cy="102.8" rx="1.9" ry="1.3" transform="rotate(59 520.2 102.8)" fill="#fff" stroke="#111" stroke-width=".45"/>
<ellipse cx="607.6" cy="95.2" rx="1.0" ry="1.4" transform="rotate(114 607.6 95.2)" fill="#fff" stroke="#111" stroke-width=".45"/>
<ellipse cx="582.2" cy="101.4" rx="2.0" ry="1.0" transform="rotate(151 582.2 101.4)" fill="#fff" stroke="#111" stroke-width=".45"/>
<ellipse cx="582.9" cy="104.9" rx="1.3" ry="1.3" transform="rotate(103 582.9 104.9)" fill="#fff" stroke="#111" stroke-width=".45"/>
<ellipse cx="530.0" cy="93.1" rx="1.5" ry="0.7" transform="rotate(164 530.0 93.1)" fill="#fff" stroke="#111" stroke-width=".45"/>
<ellipse cx="507.8" cy="89.7" rx="0.8" ry="1.4" transform="rotate(62 507.8 89.7)" fill="#fff" stroke="#111" stroke-width=".45"/>
<ellipse cx="507.4" cy="89.7" rx="0.8" ry="1.2" transform="rotate(114 507.4 89.7)" fill="#fff" stroke="#111" stroke-width=".45"/>
<ellipse cx="582.8" cy="102.7" rx="0.8" ry="1.1" transform="rotate(65 582.8 102.7)" fill="#fff" stroke="#111" stroke-width=".45"/>
<ellipse cx="599.1" cy="104.2" rx="1.9" ry="0.7" transform="rotate(156 599.1 104.2)" fill="#fff" stroke="#111" stroke-width=".45"/>
<ellipse cx="612.3" cy="106.5" rx="0.8" ry="0.8" transform="rotate(20 612.3 106.5)" fill="#fff" stroke="#111" stroke-width=".45"/>
<ellipse cx="492.9" cy="104.7" rx="1.8" ry="1.2" transform="rotate(149 492.9 104.7)" fill="#fff" stroke="#111" stroke-width=".45"/>
<ellipse cx="573.9" cy="94.5" rx="0.8" ry="0.7" transform="rotate(136 573.9 94.5)" fill="#fff" stroke="#111" stroke-width=".45"/>
<ellipse cx="516.0" cy="95.0" rx="1.3" ry="0.6" transform="rotate(46 516.0 95.0)" fill="#fff" stroke="#111" stroke-width=".45"/>
<ellipse cx="526.5" cy="102.3" rx="1.2" ry="0.9" transform="rotate(174 526.5 102.3)" fill="#fff" stroke="#111" stroke-width=".45"/>
<ellipse cx="556.6" cy="104.8" rx="1.5" ry="0.6" transform="rotate(74 556.6 104.8)" fill="#fff" stroke="#111" stroke-width=".45"/>
<ellipse cx="547.4" cy="103.3" rx="1.2" ry="1.2" transform="rotate(97 547.4 103.3)" fill="#fff" stroke="#111" stroke-width=".45"/>
<ellipse cx="517.6" cy="105.0" rx="0.8" ry="1.3" transform="rotate(31 517.6 105.0)" fill="#fff" stroke="#111" stroke-width=".45"/>
<ellipse cx="488.4" cy="92.9" rx="1.7" ry="1.5" transform="rotate(1 488.4 92.9)" fill="#fff" stroke="#111" stroke-width=".45"/>
<ellipse cx="554.8" cy="98.2" rx="1.7" ry="0.8" transform="rotate(89 554.8 98.2)" fill="#fff" stroke="#111" stroke-width=".45"/>
<ellipse cx="535.3" cy="104.4" rx="1.0" ry="1.4" transform="rotate(51 535.3 104.4)" fill="#fff" stroke="#111" stroke-width=".45"/>
<ellipse cx="517.3" cy="102.0" rx="1.3" ry="0.7" transform="rotate(115 517.3 102.0)" fill="#fff" stroke="#111" stroke-width=".45"/>
<ellipse cx="499.2" cy="103.6" rx="1.6" ry="1.3" transform="rotate(113 499.2 103.6)" fill="#fff" stroke="#111" stroke-width=".45"/>
<ellipse cx="536.5" cy="96.5" rx="1.2" ry="1.4" transform="rotate(16 536.5 96.5)" fill="#fff" stroke="#111" stroke-width=".45"/>
<ellipse cx="608.8" cy="89.7" rx="1.0" ry="0.8" transform="rotate(162 608.8 89.7)" fill="#fff" stroke="#111" stroke-width=".45"/>
<ellipse cx="556.2" cy="96.1" rx="1.8" ry="0.8" transform="rotate(83 556.2 96.1)" fill="#fff" stroke="#111" stroke-width=".45"/>
<ellipse cx="560.3" cy="103.0" rx="1.7" ry="1.2" transform="rotate(63 560.3 103.0)" fill="#fff" stroke="#111" stroke-width=".45"/>
<ellipse cx="532.5" cy="92.0" rx="1.8" ry="1.2" transform="rotate(134 532.5 92.0)" fill="#fff" stroke="#111" stroke-width=".45"/>
<ellipse cx="511.2" cy="97.2" rx="1.7" ry="1.1" transform="rotate(23 511.2 97.2)" fill="#fff" stroke="#111" stroke-width=".45"/>
<ellipse cx="550.9" cy="105.4" rx="1.0" ry="0.8" transform="rotate(54 550.9 105.4)" fill="#fff" stroke="#111" stroke-width=".45"/>
<ellipse cx="583.6" cy="104.6" rx="0.9" ry="0.7" transform="rotate(45 583.6 104.6)" fill="#fff" stroke="#111" stroke-width=".45"/>
<ellipse cx="532.5" cy="98.8" rx="0.9" ry="0.9" transform="rotate(34 532.5 98.8)" fill="#fff" stroke="#111" stroke-width=".45"/>
<ellipse cx="620.5" cy="102.5" rx="0.8" ry="1.5" transform="rotate(18 620.5 102.5)" fill="#fff" stroke="#111" stroke-width=".45"/>
<ellipse cx="540.3" cy="107.2" rx="1.7" ry="1.3" transform="rotate(78 540.3 107.2)" fill="#fff" stroke="#111" stroke-width=".45"/>
<ellipse cx="514.8" cy="100.9" rx="0.8" ry="0.8" transform="rotate(70 514.8 100.9)" fill="#fff" stroke="#111" stroke-width=".45"/>
<ellipse cx="492.8" cy="96.5" rx="1.7" ry="1.2" transform="rotate(90 492.8 96.5)" fill="#fff" stroke="#111" stroke-width=".45"/>
<ellipse cx="574.0" cy="97.7" rx="0.9" ry="1.1" transform="rotate(73 574.0 97.7)" fill="#fff" stroke="#111" stroke-width=".45"/>
<ellipse cx="588.7" cy="105.8" rx="1.3" ry="1.1" transform="rotate(135 588.7 105.8)" fill="#fff" stroke="#111" stroke-width=".45"/>
<ellipse cx="545.4" cy="93.4" rx="1.6" ry="1.4" transform="rotate(139 545.4 93.4)" fill="#fff" stroke="#111" stroke-width=".45"/>
<ellipse cx="583.2" cy="104.8" rx="1.6" ry="1.2" transform="rotate(82 583.2 104.8)" fill="#fff" stroke="#111" stroke-width=".45"/>
<ellipse cx="530.7" cy="100.7" rx="0.8" ry="1.0" transform="rotate(141 530.7 100.7)" fill="#fff" stroke="#111" stroke-width=".45"/>
<ellipse cx="585.0" cy="100.7" rx="1.0" ry="1.0" transform="rotate(82 585.0 100.7)" fill="#fff" stroke="#111" stroke-width=".45"/>
<ellipse cx="572.5" cy="96.7" rx="1.6" ry="1.4" transform="rotate(33 572.5 96.7)" fill="#fff" stroke="#111" stroke-width=".45"/>
<ellipse cx="577.0" cy="103.4" rx="1.2" ry="1.0" transform="rotate(175 577.0 103.4)" fill="#fff" stroke="#111" stroke-width=".45"/>
<ellipse cx="493.4" cy="99.1" rx="0.9" ry="1.3" transform="rotate(169 493.4 99.1)" fill="#fff" stroke="#111" stroke-width=".45"/>
<ellipse cx="558.7" cy="91.0" rx="1.4" ry="1.1" transform="rotate(129 558.7 91.0)" fill="#fff" stroke="#111" stroke-width=".45"/>
<ellipse cx="557.7" cy="100.9" rx="1.8" ry="1.1" transform="rotate(74 557.7 100.9)" fill="#fff" stroke="#111" stroke-width=".45"/>
<ellipse cx="616.8" cy="93.0" rx="1.6" ry="1.0" transform="rotate(137 616.8 93.0)" fill="#fff" stroke="#111" stroke-width=".45"/>
<ellipse cx="504.8" cy="107.2" rx="1.2" ry="0.7" transform="rotate(49 504.8 107.2)" fill="#fff" stroke="#111" stroke-width=".45"/>
<ellipse cx="542.4" cy="89.4" rx="1.2" ry="1.0" transform="rotate(126 542.4 89.4)" fill="#fff" stroke="#111" stroke-width=".45"/>
<ellipse cx="536.0" cy="94.1" rx="1.0" ry="1.3" transform="rotate(169 536.0 94.1)" fill="#fff" stroke="#111" stroke-width=".45"/>
<ellipse cx="559.7" cy="93.2" rx="1.7" ry="1.0" transform="rotate(38 559.7 93.2)" fill="#fff" stroke="#111" stroke-width=".45"/>
<ellipse cx="505.7" cy="103.4" rx="1.8" ry="1.2" transform="rotate(84 505.7 103.4)" fill="#fff" stroke="#111" stroke-width=".45"/>
<ellipse cx="564.5" cy="93.3" rx="2.0" ry="0.9" transform="rotate(115 564.5 93.3)" fill="#fff" stroke="#111" stroke-width=".45"/>
<ellipse cx="599.3" cy="104.1" rx="1.3" ry="0.9" transform="rotate(99 599.3 104.1)" fill="#fff" stroke="#111" stroke-width=".45"/>
<ellipse cx="505.2" cy="104.5" rx="1.2" ry="1.4" transform="rotate(48 505.2 104.5)" fill="#fff" stroke="#111" stroke-width=".45"/>
<ellipse cx="539.2" cy="93.8" rx="1.3" ry="0.8" transform="rotate(0 539.2 93.8)" fill="#fff" stroke="#111" stroke-width=".45"/>
<ellipse cx="586.1" cy="94.3" rx="1.0" ry="0.9" transform="rotate(86 586.1 94.3)" fill="#fff" stroke="#111" stroke-width=".45"/>
<ellipse cx="546.3" cy="100.9" rx="1.6" ry="0.9" transform="rotate(167 546.3 100.9)" fill="#fff" stroke="#111" stroke-width=".45"/>
<ellipse cx="604.1" cy="90.2" rx="1.8" ry="1.4" transform="rotate(141 604.1 90.2)" fill="#fff" stroke="#111" stroke-width=".45"/>
<ellipse cx="507.3" cy="104.4" rx="1.5" ry="0.6" transform="rotate(2 507.3 104.4)" fill="#fff" stroke="#111" stroke-width=".45"/>
<ellipse cx="617.4" cy="101.2" rx="1.0" ry="0.7" transform="rotate(26 617.4 101.2)" fill="#fff" stroke="#111" stroke-width=".45"/>
<ellipse cx="519.9" cy="103.4" rx="1.2" ry="0.7" transform="rotate(163 519.9 103.4)" fill="#fff" stroke="#111" stroke-width=".45"/>
<ellipse cx="595.6" cy="92.3" rx="1.9" ry="1.1" transform="rotate(141 595.6 92.3)" fill="#fff" stroke="#111" stroke-width=".45"/>
<ellipse cx="578.9" cy="105.6" rx="1.7" ry="1.4" transform="rotate(36 578.9 105.6)" fill="#fff" stroke="#111" stroke-width=".45"/>
<ellipse cx="582.2" cy="98.9" rx="1.7" ry="1.0" transform="rotate(159 582.2 98.9)" fill="#fff" stroke="#111" stroke-width=".45"/>
<ellipse cx="563.5" cy="94.0" rx="1.0" ry="0.7" transform="rotate(89 563.5 94.0)" fill="#fff" stroke="#111" stroke-width=".45"/>
<ellipse cx="496.1" cy="97.7" rx="0.9" ry="1.0" transform="rotate(90 496.1 97.7)" fill="#fff" stroke="#111" stroke-width=".45"/>
<ellipse cx="561.4" cy="105.0" rx="0.7" ry="1.4" transform="rotate(84 561.4 105.0)" fill="#fff" stroke="#111" stroke-width=".45"/>
<ellipse cx="564.5" cy="101.4" rx="1.8" ry="0.9" transform="rotate(75 564.5 101.4)" fill="#fff" stroke="#111" stroke-width=".45"/>
<ellipse cx="618.6" cy="90.6" rx="1.5" ry="1.2" transform="rotate(5 618.6 90.6)" fill="#fff" stroke="#111" stroke-width=".45"/>
<ellipse cx="570.9" cy="101.7" rx="1.9" ry="0.9" transform="rotate(177 570.9 101.7)" fill="#fff" stroke="#111" stroke-width=".45"/>
<ellipse cx="557.5" cy="98.1" rx="1.9" ry="0.6" transform="rotate(129 557.5 98.1)" fill="#fff" stroke="#111" stroke-width=".45"/>
<ellipse cx="573.1" cy="95.4" rx="1.8" ry="0.9" transform="rotate(85 573.1 95.4)" fill="#fff" stroke="#111" stroke-width=".45"/>
<ellipse cx="559.5" cy="103.3" rx="1.0" ry="1.0" transform="rotate(76 559.5 103.3)" fill="#fff" stroke="#111" stroke-width=".45"/>
<ellipse cx="563.4" cy="104.3" rx="1.1" ry="1.3" transform="rotate(73 563.4 104.3)" fill="#fff" stroke="#111" stroke-width=".45"/>
<ellipse cx="556.6" cy="94.2" rx="1.4" ry="1.5" transform="rotate(118 556.6 94.2)" fill="#fff" stroke="#111" stroke-width=".45"/>
<ellipse cx="595.7" cy="95.3" rx="1.1" ry="0.9" transform="rotate(106 595.7 95.3)" fill="#fff" stroke="#111" stroke-width=".45"/>
<ellipse cx="574.3" cy="103.6" rx="0.8" ry="1.3" transform="rotate(159 574.3 103.6)" fill="#fff" stroke="#111" stroke-width=".45"/>
<ellipse cx="562.2" cy="90.1" rx="1.1" ry="0.6" transform="rotate(34 562.2 90.1)" fill="#fff" stroke="#111" stroke-width=".45"/>
<ellipse cx="613.2" cy="100.3" rx="1.6" ry="1.3" transform="rotate(164 613.2 100.3)" fill="#fff" stroke="#111" stroke-width=".45"/>
<ellipse cx="571.2" cy="100.5" rx="1.5" ry="1.2" transform="rotate(107 571.2 100.5)" fill="#fff" stroke="#111" stroke-width=".45"/>
<ellipse cx="580.6" cy="93.1" rx="1.6" ry="1.0" transform="rotate(137 580.6 93.1)" fill="#fff" stroke="#111" stroke-width=".45"/>
<ellipse cx="502.0" cy="92.5" rx="0.7" ry="1.3" transform="rotate(165 502.0 92.5)" fill="#fff" stroke="#111" stroke-width=".45"/>
<ellipse cx="577.2" cy="96.0" rx="1.8" ry="1.3" transform="rotate(101 577.2 96.0)" fill="#fff" stroke="#111" stroke-width=".45"/>
<ellipse cx="523.2" cy="94.7" rx="1.2" ry="0.9" transform="rotate(78 523.2 94.7)" fill="#fff" stroke="#111" stroke-width=".45"/>
<ellipse cx="575.3" cy="106.3" rx="0.8" ry="1.1" transform="rotate(7 575.3 106.3)" fill="#fff" stroke="#111" stroke-width=".45"/>
<ellipse cx="504.3" cy="104.0" rx="1.4" ry="1.4" transform="rotate(80 504.3 104.0)" fill="#fff" stroke="#111" stroke-width=".45"/>
<ellipse cx="490.1" cy="96.3" rx="1.5" ry="1.4" transform="rotate(177 490.1 96.3)" fill="#fff" stroke="#111" stroke-width=".45"/>
<ellipse cx="552.7" cy="96.7" rx="0.8" ry="1.2" transform="rotate(38 552.7 96.7)" fill="#fff" stroke="#111" stroke-width=".45"/>
<ellipse cx="508.8" cy="89.5" rx="0.7" ry="1.2" transform="rotate(22 508.8 89.5)" fill="#fff" stroke="#111" stroke-width=".45"/>
<ellipse cx="619.3" cy="90.8" rx="1.8" ry="0.7" transform="rotate(3 619.3 90.8)" fill="#fff" stroke="#111" stroke-width=".45"/>
<ellipse cx="585.8" cy="93.6" rx="1.7" ry="0.8" transform="rotate(9 585.8 93.6)" fill="#fff" stroke="#111" stroke-width=".45"/>
<ellipse cx="593.2" cy="102.3" rx="1.8" ry="1.3" transform="rotate(15 593.2 102.3)" fill="#fff" stroke="#111" stroke-width=".45"/>
<ellipse cx="573.5" cy="102.2" rx="1.3" ry="1.4" transform="rotate(46 573.5 102.2)" fill="#fff" stroke="#111" stroke-width=".45"/>
<ellipse cx="619.1" cy="102.3" rx="0.7" ry="0.6" transform="rotate(117 619.1 102.3)" fill="#fff" stroke="#111" stroke-width=".45"/>
<ellipse cx="599.1" cy="90.7" rx="1.1" ry="1.3" transform="rotate(30 599.1 90.7)" fill="#fff" stroke="#111" stroke-width=".45"/>
<ellipse cx="605.0" cy="98.1" rx="0.8" ry="0.9" transform="rotate(103 605.0 98.1)" fill="#fff" stroke="#111" stroke-width=".45"/>
<ellipse cx="547.7" cy="101.6" rx="0.9" ry="1.3" transform="rotate(65 547.7 101.6)" fill="#fff" stroke="#111" stroke-width=".45"/>
<ellipse cx="575.7" cy="100.7" rx="1.2" ry="0.9" transform="rotate(142 575.7 100.7)" fill="#fff" stroke="#111" stroke-width=".45"/>
<ellipse cx="616.4" cy="103.6" rx="1.4" ry="0.9" transform="rotate(11 616.4 103.6)" fill="#fff" stroke="#111" stroke-width=".45"/>
<ellipse cx="620.4" cy="102.1" rx="1.8" ry="0.9" transform="rotate(109 620.4 102.1)" fill="#fff" stroke="#111" stroke-width=".45"/>
<ellipse cx="620.8" cy="104.4" rx="1.5" ry="0.9" transform="rotate(77 620.8 104.4)" fill="#fff" stroke="#111" stroke-width=".45"/>
<ellipse cx="608.7" cy="96.1" rx="1.6" ry="1.1" transform="rotate(161 608.7 96.1)" fill="#fff" stroke="#111" stroke-width=".45"/>
<ellipse cx="597.8" cy="94.4" rx="0.7" ry="0.8" transform="rotate(76 597.8 94.4)" fill="#fff" stroke="#111" stroke-width=".45"/>
<ellipse cx="567.8" cy="104.1" rx="1.9" ry="0.6" transform="rotate(150 567.8 104.1)" fill="#fff" stroke="#111" stroke-width=".45"/>
<ellipse cx="598.4" cy="105.1" rx="1.4" ry="0.8" transform="rotate(153 598.4 105.1)" fill="#fff" stroke="#111" stroke-width=".45"/>
<ellipse cx="597.7" cy="101.7" rx="1.9" ry="0.9" transform="rotate(15 597.7 101.7)" fill="#fff" stroke="#111" stroke-width=".45"/>
<ellipse cx="563.3" cy="103.8" rx="1.0" ry="1.3" transform="rotate(168 563.3 103.8)" fill="#fff" stroke="#111" stroke-width=".45"/>
<ellipse cx="520.0" cy="100.3" rx="1.6" ry="1.0" transform="rotate(37 520.0 100.3)" fill="#fff" stroke="#111" stroke-width=".45"/>
<ellipse cx="522.8" cy="102.9" rx="1.7" ry="1.0" transform="rotate(16 522.8 102.9)" fill="#fff" stroke="#111" stroke-width=".45"/>
<ellipse cx="597.7" cy="103.3" rx="1.0" ry="1.1" transform="rotate(161 597.7 103.3)" fill="#fff" stroke="#111" stroke-width=".45"/>
<ellipse cx="608.3" cy="98.8" rx="1.3" ry="1.1" transform="rotate(34 608.3 98.8)" fill="#fff" stroke="#111" stroke-width=".45"/>
<ellipse cx="514.3" cy="92.5" rx="1.6" ry="0.9" transform="rotate(102 514.3 92.5)" fill="#fff" stroke="#111" stroke-width=".45"/>
<ellipse cx="542.8" cy="98.7" rx="0.9" ry="0.6" transform="rotate(179 542.8 98.7)" fill="#fff" stroke="#111" stroke-width=".45"/>
<ellipse cx="539.0" cy="91.1" rx="1.5" ry="1.3" transform="rotate(28 539.0 91.1)" fill="#fff" stroke="#111" stroke-width=".45"/>
<ellipse cx="569.2" cy="95.5" rx="1.4" ry="0.6" transform="rotate(6 569.2 95.5)" fill="#fff" stroke="#111" stroke-width=".45"/>
<ellipse cx="622.6" cy="105.0" rx="1.3" ry="1.1" transform="rotate(47 622.6 105.0)" fill="#fff" stroke="#111" stroke-width=".45"/>
<ellipse cx="593.9" cy="97.0" rx="1.9" ry="1.3" transform="rotate(147 593.9 97.0)" fill="#fff" stroke="#111" stroke-width=".45"/>
<ellipse cx="618.9" cy="93.8" rx="0.7" ry="0.8" transform="rotate(33 618.9 93.8)" fill="#fff" stroke="#111" stroke-width=".45"/>
<ellipse cx="499.6" cy="90.1" rx="1.4" ry="1.4" transform="rotate(82 499.6 90.1)" fill="#fff" stroke="#111" stroke-width=".45"/>
<ellipse cx="616.7" cy="105.9" rx="0.8" ry="1.1" transform="rotate(72 616.7 105.9)" fill="#fff" stroke="#111" stroke-width=".45"/>
<ellipse cx="504.5" cy="106.8" rx="1.0" ry="1.1" transform="rotate(115 504.5 106.8)" fill="#fff" stroke="#111" stroke-width=".45"/>
<ellipse cx="618.0" cy="101.5" rx="1.2" ry="1.0" transform="rotate(29 618.0 101.5)" fill="#fff" stroke="#111" stroke-width=".45"/>
<ellipse cx="619.3" cy="107.3" rx="1.0" ry="0.6" transform="rotate(46 619.3 107.3)" fill="#fff" stroke="#111" stroke-width=".45"/>
<ellipse cx="536.0" cy="105.7" rx="1.9" ry="1.4" transform="rotate(8 536.0 105.7)" fill="#fff" stroke="#111" stroke-width=".45"/>
<ellipse cx="594.9" cy="102.2" rx="1.5" ry="1.5" transform="rotate(10 594.9 102.2)" fill="#fff" stroke="#111" stroke-width=".45"/>
<ellipse cx="507.8" cy="103.0" rx="1.9" ry="1.2" transform="rotate(54 507.8 103.0)" fill="#fff" stroke="#111" stroke-width=".45"/>
<ellipse cx="568.5" cy="103.1" rx="0.8" ry="0.9" transform="rotate(46 568.5 103.1)" fill="#fff" stroke="#111" stroke-width=".45"/>
<ellipse cx="505.0" cy="98.0" rx="0.9" ry="0.8" transform="rotate(26 505.0 98.0)" fill="#fff" stroke="#111" stroke-width=".45"/>
<ellipse cx="580.2" cy="89.4" rx="1.6" ry="0.8" transform="rotate(6 580.2 89.4)" fill="#fff" stroke="#111" stroke-width=".45"/>
<ellipse cx="614.1" cy="93.2" rx="1.9" ry="1.4" transform="rotate(160 614.1 93.2)" fill="#fff" stroke="#111" stroke-width=".45"/>
<ellipse cx="507.2" cy="97.4" rx="0.8" ry="1.4" transform="rotate(152 507.2 97.4)" fill="#fff" stroke="#111" stroke-width=".45"/>
<ellipse cx="573.5" cy="97.5" rx="1.1" ry="1.3" transform="rotate(86 573.5 97.5)" fill="#fff" stroke="#111" stroke-width=".45"/>
<ellipse cx="573.4" cy="91.8" rx="1.0" ry="0.7" transform="rotate(128 573.4 91.8)" fill="#fff" stroke="#111" stroke-width=".45"/>
<ellipse cx="563.3" cy="91.8" rx="1.8" ry="0.8" transform="rotate(74 563.3 91.8)" fill="#fff" stroke="#111" stroke-width=".45"/>
<ellipse cx="509.3" cy="94.2" rx="1.8" ry="0.9" transform="rotate(30 509.3 94.2)" fill="#fff" stroke="#111" stroke-width=".45"/>
<ellipse cx="554.8" cy="95.0" rx="1.9" ry="0.7" transform="rotate(176 554.8 95.0)" fill="#fff" stroke="#111" stroke-width=".45"/>
<ellipse cx="495.9" cy="105.6" rx="1.6" ry="0.8" transform="rotate(86 495.9 105.6)" fill="#fff" stroke="#111" stroke-width=".45"/>
<ellipse cx="527.0" cy="93.9" rx="1.0" ry="0.9" transform="rotate(178 527.0 93.9)" fill="#fff" stroke="#111" stroke-width=".45"/>
<ellipse cx="623.6" cy="106.1" rx="0.8" ry="0.9" transform="rotate(161 623.6 106.1)" fill="#fff" stroke="#111" stroke-width=".45"/>
<ellipse cx="496.0" cy="102.5" rx="1.1" ry="1.5" transform="rotate(3 496.0 102.5)" fill="#fff" stroke="#111" stroke-width=".45"/>
<ellipse cx="597.7" cy="95.4" rx="0.9" ry="0.6" transform="rotate(150 597.7 95.4)" fill="#fff" stroke="#111" stroke-width=".45"/>
<ellipse cx="559.7" cy="92.6" rx="1.3" ry="1.4" transform="rotate(39 559.7 92.6)" fill="#fff" stroke="#111" stroke-width=".45"/>
<ellipse cx="565.7" cy="91.7" rx="0.9" ry="1.3" transform="rotate(128 565.7 91.7)" fill="#fff" stroke="#111" stroke-width=".45"/>
<ellipse cx="514.9" cy="90.7" rx="0.8" ry="1.1" transform="rotate(89 514.9 90.7)" fill="#fff" stroke="#111" stroke-width=".45"/>
<ellipse cx="525.4" cy="93.0" rx="1.5" ry="1.2" transform="rotate(146 525.4 93.0)" fill="#fff" stroke="#111" stroke-width=".45"/>
<ellipse cx="567.3" cy="92.9" rx="0.8" ry="1.3" transform="rotate(73 567.3 92.9)" fill="#fff" stroke="#111" stroke-width=".45"/>
<ellipse cx="586.1" cy="90.2" rx="1.8" ry="0.9" transform="rotate(152 586.1 90.2)" fill="#fff" stroke="#111" stroke-width=".45"/>
<ellipse cx="605.5" cy="98.2" rx="0.7" ry="1.4" transform="rotate(86 605.5 98.2)" fill="#fff" stroke="#111" stroke-width=".45"/>
<ellipse cx="606.5" cy="94.1" rx="0.9" ry="1.3" transform="rotate(66 606.5 94.1)" fill="#fff" stroke="#111" stroke-width=".45"/>
<ellipse cx="510.4" cy="96.0" rx="1.5" ry="0.6" transform="rotate(94 510.4 96.0)" fill="#fff" stroke="#111" stroke-width=".45"/>
<ellipse cx="548.7" cy="98.6" rx="0.9" ry="1.2" transform="rotate(147 548.7 98.6)" fill="#fff" stroke="#111" stroke-width=".45"/>
<ellipse cx="605.6" cy="95.1" rx="1.6" ry="0.9" transform="rotate(135 605.6 95.1)" fill="#fff" stroke="#111" stroke-width=".45"/>
<ellipse cx="496.5" cy="105.2" rx="1.9" ry="1.0" transform="rotate(92 496.5 105.2)" fill="#fff" stroke="#111" stroke-width=".45"/>
<ellipse cx="560.2" cy="99.0" rx="0.7" ry="1.5" transform="rotate(40 560.2 99.0)" fill="#fff" stroke="#111" stroke-width=".45"/>
<ellipse cx="513.0" cy="91.1" rx="1.0" ry="1.3" transform="rotate(5 513.0 91.1)" fill="#fff" stroke="#111" stroke-width=".45"/>
<ellipse cx="501.3" cy="102.0" rx="1.0" ry="0.6" transform="rotate(108 501.3 102.0)" fill="#fff" stroke="#111" stroke-width=".45"/>
<ellipse cx="566.4" cy="98.8" rx="1.6" ry="0.7" transform="rotate(157 566.4 98.8)" fill="#fff" stroke="#111" stroke-width=".45"/>
<ellipse cx="585.5" cy="90.0" rx="0.9" ry="1.0" transform="rotate(90 585.5 90.0)" fill="#fff" stroke="#111" stroke-width=".45"/>
<ellipse cx="526.1" cy="91.4" rx="1.2" ry="0.7" transform="rotate(107 526.1 91.4)" fill="#fff" stroke="#111" stroke-width=".45"/>
<ellipse cx="605.0" cy="91.9" rx="1.4" ry="1.3" transform="rotate(30 605.0 91.9)" fill="#fff" stroke="#111" stroke-width=".45"/>
<ellipse cx="600.3" cy="106.4" rx="1.2" ry="1.0" transform="rotate(151 600.3 106.4)" fill="#fff" stroke="#111" stroke-width=".45"/>
<ellipse cx="559.5" cy="96.4" rx="1.9" ry="1.3" transform="rotate(61 559.5 96.4)" fill="#fff" stroke="#111" stroke-width=".45"/>
<ellipse cx="520.8" cy="95.3" rx="1.3" ry="1.5" transform="rotate(145 520.8 95.3)" fill="#fff" stroke="#111" stroke-width=".45"/>
<ellipse cx="612.1" cy="104.1" rx="1.8" ry="0.6" transform="rotate(93 612.1 104.1)" fill="#fff" stroke="#111" stroke-width=".45"/>
<ellipse cx="618.2" cy="106.3" rx="1.0" ry="1.0" transform="rotate(114 618.2 106.3)" fill="#fff" stroke="#111" stroke-width=".45"/>
<ellipse cx="537.7" cy="98.9" rx="0.8" ry="1.0" transform="rotate(91 537.7 98.9)" fill="#fff" stroke="#111" stroke-width=".45"/>
<ellipse cx="491.0" cy="91.8" rx="2.0" ry="1.3" transform="rotate(169 491.0 91.8)" fill="#fff" stroke="#111" stroke-width=".45"/>
<ellipse cx="574.1" cy="104.0" rx="1.8" ry="1.4" transform="rotate(6 574.1 104.0)" fill="#fff" stroke="#111" stroke-width=".45"/>
<ellipse cx="575.3" cy="94.1" rx="1.6" ry="0.8" transform="rotate(98 575.3 94.1)" fill="#fff" stroke="#111" stroke-width=".45"/>
<ellipse cx="613.6" cy="100.6" rx="1.0" ry="1.1" transform="rotate(78 613.6 100.6)" fill="#fff" stroke="#111" stroke-width=".45"/>
<ellipse cx="617.2" cy="94.5" rx="1.1" ry="1.2" transform="rotate(22 617.2 94.5)" fill="#fff" stroke="#111" stroke-width=".45"/>
<ellipse cx="568.8" cy="106.7" rx="1.4" ry="0.8" transform="rotate(84 568.8 106.7)" fill="#fff" stroke="#111" stroke-width=".45"/>
<ellipse cx="560.6" cy="91.9" rx="0.9" ry="0.7" transform="rotate(53 560.6 91.9)" fill="#fff" stroke="#111" stroke-width=".45"/>
<ellipse cx="543.4" cy="94.5" rx="1.0" ry="0.7" transform="rotate(98 543.4 94.5)" fill="#fff" stroke="#111" stroke-width=".45"/>
<ellipse cx="602.2" cy="100.4" rx="1.4" ry="1.2" transform="rotate(36 602.2 100.4)" fill="#fff" stroke="#111" stroke-width=".45"/>
<ellipse cx="584.6" cy="97.6" rx="1.4" ry="1.2" transform="rotate(84 584.6 97.6)" fill="#fff" stroke="#111" stroke-width=".45"/>
<ellipse cx="530.3" cy="93.6" rx="1.0" ry="1.1" transform="rotate(69 530.3 93.6)" fill="#fff" stroke="#111" stroke-width=".45"/>
<ellipse cx="567.7" cy="89.4" rx="1.2" ry="1.4" transform="rotate(43 567.7 89.4)" fill="#fff" stroke="#111" stroke-width=".45"/>
<ellipse cx="563.7" cy="98.2" rx="1.1" ry="1.5" transform="rotate(53 563.7 98.2)" fill="#fff" stroke="#111" stroke-width=".45"/>
<ellipse cx="593.0" cy="92.1" rx="0.8" ry="1.4" transform="rotate(79 593.0 92.1)" fill="#fff" stroke="#111" stroke-width=".45"/>
<ellipse cx="496.6" cy="96.3" rx="1.3" ry="1.3" transform="rotate(20 496.6 96.3)" fill="#fff" stroke="#111" stroke-width=".45"/>
<ellipse cx="518.8" cy="106.8" rx="1.7" ry="0.7" transform="rotate(61 518.8 106.8)" fill="#fff" stroke="#111" stroke-width=".45"/>
<ellipse cx="536.0" cy="101.6" rx="1.5" ry="1.4" transform="rotate(148 536.0 101.6)" fill="#fff" stroke="#111" stroke-width=".45"/>
<ellipse cx="558.5" cy="102.7" rx="1.7" ry="1.3" transform="rotate(86 558.5 102.7)" fill="#fff" stroke="#111" stroke-width=".45"/>
<ellipse cx="594.7" cy="102.2" rx="1.9" ry="0.7" transform="rotate(157 594.7 102.2)" fill="#fff" stroke="#111" stroke-width=".45"/>
<ellipse cx="488.8" cy="103.2" rx="1.5" ry="1.0" transform="rotate(173 488.8 103.2)" fill="#fff" stroke="#111" stroke-width=".45"/>
<ellipse cx="565.8" cy="96.8" rx="1.7" ry="1.4" transform="rotate(109 565.8 96.8)" fill="#fff" stroke="#111" stroke-width=".45"/>
<ellipse cx="539.7" cy="97.5" rx="1.3" ry="1.3" transform="rotate(53 539.7 97.5)" fill="#fff" stroke="#111" stroke-width=".45"/>
<ellipse cx="541.2" cy="99.4" rx="1.2" ry="0.9" transform="rotate(142 541.2 99.4)" fill="#fff" stroke="#111" stroke-width=".45"/>
<ellipse cx="603.5" cy="98.3" rx="1.3" ry="0.8" transform="rotate(55 603.5 98.3)" fill="#fff" stroke="#111" stroke-width=".45"/>
<ellipse cx="507.9" cy="99.7" rx="1.5" ry="0.7" transform="rotate(166 507.9 99.7)" fill="#fff" stroke="#111" stroke-width=".45"/>
<ellipse cx="532.1" cy="104.6" rx="1.8" ry="1.5" transform="rotate(37 532.1 104.6)" fill="#fff" stroke="#111" stroke-width=".45"/>
<ellipse cx="546.1" cy="105.9" rx="0.7" ry="0.6" transform="rotate(102 546.1 105.9)" fill="#fff" stroke="#111" stroke-width=".45"/>
<ellipse cx="555.7" cy="106.0" rx="1.7" ry="1.1" transform="rotate(180 555.7 106.0)" fill="#fff" stroke="#111" stroke-width=".45"/>
<ellipse cx="558.4" cy="98.7" rx="1.6" ry="1.0" transform="rotate(64 558.4 98.7)" fill="#fff" stroke="#111" stroke-width=".45"/>
<ellipse cx="568.9" cy="95.6" rx="1.9" ry="1.2" transform="rotate(95 568.9 95.6)" fill="#fff" stroke="#111" stroke-width=".45"/>
<ellipse cx="501.6" cy="96.1" rx="1.2" ry="1.1" transform="rotate(103 501.6 96.1)" fill="#fff" stroke="#111" stroke-width=".45"/>
<ellipse cx="607.6" cy="106.8" rx="1.3" ry="1.0" transform="rotate(112 607.6 106.8)" fill="#fff" stroke="#111" stroke-width=".45"/>
<ellipse cx="623.4" cy="95.5" rx="1.4" ry="1.3" transform="rotate(31 623.4 95.5)" fill="#fff" stroke="#111" stroke-width=".45"/>
<ellipse cx="531.4" cy="107.1" rx="1.8" ry="1.1" transform="rotate(20 531.4 107.1)" fill="#fff" stroke="#111" stroke-width=".45"/>
<ellipse cx="609.6" cy="101.8" rx="1.8" ry="1.5" transform="rotate(160 609.6 101.8)" fill="#fff" stroke="#111" stroke-width=".45"/>
<ellipse cx="545.3" cy="92.1" rx="1.1" ry="1.1" transform="rotate(91 545.3 92.1)" fill="#fff" stroke="#111" stroke-width=".45"/>
<ellipse cx="513.7" cy="92.5" rx="1.5" ry="1.1" transform="rotate(64 513.7 92.5)" fill="#fff" stroke="#111" stroke-width=".45"/>
<ellipse cx="623.1" cy="100.8" rx="0.8" ry="1.0" transform="rotate(142 623.1 100.8)" fill="#fff" stroke="#111" stroke-width=".45"/>
<ellipse cx="529.8" cy="101.8" rx="0.7" ry="0.9" transform="rotate(152 529.8 101.8)" fill="#fff" stroke="#111" stroke-width=".45"/>
<ellipse cx="567.7" cy="101.4" rx="1.0" ry="1.0" transform="rotate(100 567.7 101.4)" fill="#fff" stroke="#111" stroke-width=".45"/>
<ellipse cx="524.3" cy="101.0" rx="1.4" ry="1.5" transform="rotate(103 524.3 101.0)" fill="#fff" stroke="#111" stroke-width=".45"/>
<ellipse cx="544.0" cy="91.4" rx="0.9" ry="1.3" transform="rotate(19 544.0 91.4)" fill="#fff" stroke="#111" stroke-width=".45"/>
<ellipse cx="501.8" cy="92.3" rx="1.4" ry="1.3" transform="rotate(110 501.8 92.3)" fill="#fff" stroke="#111" stroke-width=".45"/>
<ellipse cx="597.7" cy="90.3" rx="0.7" ry="1.3" transform="rotate(58 597.7 90.3)" fill="#fff" stroke="#111" stroke-width=".45"/>
<ellipse cx="585.3" cy="95.7" rx="0.9" ry="0.8" transform="rotate(18 585.3 95.7)" fill="#fff" stroke="#111" stroke-width=".45"/>
<ellipse cx="610.9" cy="99.9" rx="1.2" ry="1.0" transform="rotate(69 610.9 99.9)" fill="#fff" stroke="#111" stroke-width=".45"/>
<ellipse cx="495.6" cy="105.5" rx="1.5" ry="1.5" transform="rotate(79 495.6 105.5)" fill="#fff" stroke="#111" stroke-width=".45"/>
<ellipse cx="572.4" cy="93.8" rx="0.8" ry="1.4" transform="rotate(154 572.4 93.8)" fill="#fff" stroke="#111" stroke-width=".45"/>
<ellipse cx="530.9" cy="105.6" rx="1.8" ry="0.9" transform="rotate(108 530.9 105.6)" fill="#fff" stroke="#111" stroke-width=".45"/>
<ellipse cx="618.5" cy="98.3" rx="1.9" ry="0.8" transform="rotate(70 618.5 98.3)" fill="#fff" stroke="#111" stroke-width=".45"/>
<ellipse cx="585.7" cy="93.3" rx="1.1" ry="1.4" transform="rotate(87 585.7 93.3)" fill="#fff" stroke="#111" stroke-width=".45"/>
<ellipse cx="595.8" cy="93.7" rx="0.9" ry="0.9" transform="rotate(34 595.8 93.7)" fill="#fff" stroke="#111" stroke-width=".45"/>
<ellipse cx="620.0" cy="94.5" rx="1.4" ry="0.7" transform="rotate(96 620.0 94.5)" fill="#fff" stroke="#111" stroke-width=".45"/>
<ellipse cx="540.5" cy="96.6" rx="0.8" ry="0.7" transform="rotate(149 540.5 96.6)" fill="#fff" stroke="#111" stroke-width=".45"/>
<ellipse cx="535.9" cy="93.7" rx="0.9" ry="0.9" transform="rotate(43 535.9 93.7)" fill="#fff" stroke="#111" stroke-width=".45"/>
<ellipse cx="492.9" cy="101.4" rx="1.1" ry="0.7" transform="rotate(127 492.9 101.4)" fill="#fff" stroke="#111" stroke-width=".45"/>
<ellipse cx="500.8" cy="94.1" rx="1.8" ry="0.7" transform="rotate(80 500.8 94.1)" fill="#fff" stroke="#111" stroke-width=".45"/>
<ellipse cx="601.7" cy="103.9" rx="0.9" ry="0.9" transform="rotate(130 601.7 103.9)" fill="#fff" stroke="#111" stroke-width=".45"/>
<ellipse cx="539.3" cy="106.7" rx="1.0" ry="1.5" transform="rotate(91 539.3 106.7)" fill="#fff" stroke="#111" stroke-width=".45"/>
<ellipse cx="519.0" cy="97.5" rx="0.9" ry="1.2" transform="rotate(47 519.0 97.5)" fill="#fff" stroke="#111" stroke-width=".45"/>
<ellipse cx="610.3" cy="100.0" rx="1.2" ry="0.8" transform="rotate(109 610.3 100.0)" fill="#fff" stroke="#111" stroke-width=".45"/>
<ellipse cx="517.0" cy="105.2" rx="0.9" ry="1.1" transform="rotate(98 517.0 105.2)" fill="#fff" stroke="#111" stroke-width=".45"/>
<ellipse cx="524.9" cy="103.3" rx="1.2" ry="1.2" transform="rotate(102 524.9 103.3)" fill="#fff" stroke="#111" stroke-width=".45"/>
<ellipse cx="530.4" cy="96.3" rx="0.8" ry="0.8" transform="rotate(153 530.4 96.3)" fill="#fff" stroke="#111" stroke-width=".45"/>
<ellipse cx="531.8" cy="101.3" rx="0.8" ry="1.1" transform="rotate(65 531.8 101.3)" fill="#fff" stroke="#111" stroke-width=".45"/>
<ellipse cx="556.1" cy="94.6" rx="0.8" ry="0.9" transform="rotate(41 556.1 94.6)" fill="#fff" stroke="#111" stroke-width=".45"/>
<ellipse cx="505.3" cy="102.3" rx="1.1" ry="1.0" transform="rotate(164 505.3 102.3)" fill="#fff" stroke="#111" stroke-width=".45"/>
<ellipse cx="593.4" cy="105.4" rx="1.8" ry="0.7" transform="rotate(50 593.4 105.4)" fill="#fff" stroke="#111" stroke-width=".45"/>
<ellipse cx="492.2" cy="101.6" rx="1.6" ry="0.9" transform="rotate(74 492.2 101.6)" fill="#fff" stroke="#111" stroke-width=".45"/>
<ellipse cx="577.6" cy="102.0" rx="1.0" ry="1.4" transform="rotate(63 577.6 102.0)" fill="#fff" stroke="#111" stroke-width=".45"/>
<ellipse cx="573.5" cy="92.5" rx="0.8" ry="1.4" transform="rotate(132 573.5 92.5)" fill="#fff" stroke="#111" stroke-width=".45"/>
<ellipse cx="584.9" cy="89.9" rx="0.8" ry="0.7" transform="rotate(36 584.9 89.9)" fill="#fff" stroke="#111" stroke-width=".45"/>
<ellipse cx="529.3" cy="96.2" rx="0.8" ry="0.9" transform="rotate(115 529.3 96.2)" fill="#fff" stroke="#111" stroke-width=".45"/>
<ellipse cx="512.6" cy="104.6" rx="1.4" ry="1.2" transform="rotate(46 512.6 104.6)" fill="#fff" stroke="#111" stroke-width=".45"/>
<ellipse cx="547.2" cy="101.7" rx="1.2" ry="0.6" transform="rotate(150 547.2 101.7)" fill="#fff" stroke="#111" stroke-width=".45"/>
<ellipse cx="593.6" cy="94.4" rx="0.8" ry="1.4" transform="rotate(109 593.6 94.4)" fill="#fff" stroke="#111" stroke-width=".45"/>
<ellipse cx="494.6" cy="93.7" rx="0.8" ry="1.3" transform="rotate(38 494.6 93.7)" fill="#fff" stroke="#111" stroke-width=".45"/>
<ellipse cx="612.3" cy="102.9" rx="0.8" ry="1.2" transform="rotate(71 612.3 102.9)" fill="#fff" stroke="#111" stroke-width=".45"/>
<ellipse cx="589.6" cy="104.4" rx="1.1" ry="0.7" transform="rotate(170 589.6 104.4)" fill="#fff" stroke="#111" stroke-width=".45"/>
<ellipse cx="545.7" cy="106.2" rx="1.6" ry="1.3" transform="rotate(149 545.7 106.2)" fill="#fff" stroke="#111" stroke-width=".45"/>
<ellipse cx="573.4" cy="97.5" rx="0.8" ry="1.2" transform="rotate(77 573.4 97.5)" fill="#fff" stroke="#111" stroke-width=".45"/>
<ellipse cx="557.7" cy="106.2" rx="0.9" ry="1.3" transform="rotate(8 557.7 106.2)" fill="#fff" stroke="#111" stroke-width=".45"/>
<ellipse cx="583.6" cy="103.9" rx="1.0" ry="1.1" transform="rotate(174 583.6 103.9)" fill="#fff" stroke="#111" stroke-width=".45"/>
<ellipse cx="574.7" cy="99.2" rx="1.0" ry="0.7" transform="rotate(64 574.7 99.2)" fill="#fff" stroke="#111" stroke-width=".45"/>
<ellipse cx="544.1" cy="92.9" rx="1.1" ry="0.7" transform="rotate(127 544.1 92.9)" fill="#fff" stroke="#111" stroke-width=".45"/>
<ellipse cx="579.2" cy="93.6" rx="1.0" ry="1.1" transform="rotate(80 579.2 93.6)" fill="#fff" stroke="#111" stroke-width=".45"/>
<ellipse cx="615.2" cy="95.6" rx="1.1" ry="1.4" transform="rotate(26 615.2 95.6)" fill="#fff" stroke="#111" stroke-width=".45"/>
<ellipse cx="564.6" cy="95.3" rx="1.8" ry="1.1" transform="rotate(137 564.6 95.3)" fill="#fff" stroke="#111" stroke-width=".45"/>
<ellipse cx="511.2" cy="101.4" rx="1.5" ry="1.0" transform="rotate(138 511.2 101.4)" fill="#fff" stroke="#111" stroke-width=".45"/>
<ellipse cx="601.0" cy="91.3" rx="1.1" ry="0.9" transform="rotate(37 601.0 91.3)" fill="#fff" stroke="#111" stroke-width=".45"/>
<ellipse cx="496.4" cy="94.3" rx="1.0" ry="1.2" transform="rotate(81 496.4 94.3)" fill="#fff" stroke="#111" stroke-width=".45"/>
<ellipse cx="503.5" cy="95.1" rx="1.3" ry="0.9" transform="rotate(30 503.5 95.1)" fill="#fff" stroke="#111" stroke-width=".45"/>
<ellipse cx="497.9" cy="89.4" rx="2.0" ry="1.3" transform="rotate(15 497.9 89.4)" fill="#fff" stroke="#111" stroke-width=".45"/>
<ellipse cx="585.5" cy="107.1" rx="1.4" ry="0.7" transform="rotate(88 585.5 107.1)" fill="#fff" stroke="#111" stroke-width=".45"/>
<ellipse cx="547.1" cy="92.7" rx="1.4" ry="0.6" transform="rotate(166 547.1 92.7)" fill="#fff" stroke="#111" stroke-width=".45"/>
<ellipse cx="575.7" cy="100.7" rx="1.9" ry="1.2" transform="rotate(45 575.7 100.7)" fill="#fff" stroke="#111" stroke-width=".45"/>
<ellipse cx="521.6" cy="91.7" rx="0.7" ry="1.3" transform="rotate(151 521.6 91.7)" fill="#fff" stroke="#111" stroke-width=".45"/>
<ellipse cx="528.4" cy="92.6" rx="1.5" ry="1.4" transform="rotate(167 528.4 92.6)" fill="#fff" stroke="#111" stroke-width=".45"/>
<ellipse cx="511.1" cy="103.6" rx="1.8" ry="1.3" transform="rotate(59 511.1 103.6)" fill="#fff" stroke="#111" stroke-width=".45"/>
<ellipse cx="513.2" cy="104.3" rx="1.1" ry="0.9" transform="rotate(99 513.2 104.3)" fill="#fff" stroke="#111" stroke-width=".45"/>
<ellipse cx="538.3" cy="104.4" rx="1.0" ry="0.6" transform="rotate(102 538.3 104.4)" fill="#fff" stroke="#111" stroke-width=".45"/>
<ellipse cx="573.4" cy="104.2" rx="1.6" ry="1.4" transform="rotate(170 573.4 104.2)" fill="#fff" stroke="#111" stroke-width=".45"/>
<ellipse cx="555.3" cy="98.3" rx="0.9" ry="0.9" transform="rotate(105 555.3 98.3)" fill="#fff" stroke="#111" stroke-width=".45"/>
<ellipse cx="499.1" cy="101.8" rx="0.9" ry="1.0" transform="rotate(175 499.1 101.8)" fill="#fff" stroke="#111" stroke-width=".45"/>
<ellipse cx="500.4" cy="89.9" rx="1.3" ry="0.8" transform="rotate(130 500.4 89.9)" fill="#fff" stroke="#111" stroke-width=".45"/>
<ellipse cx="488.6" cy="104.6" rx="1.8" ry="1.3" transform="rotate(77 488.6 104.6)" fill="#fff" stroke="#111" stroke-width=".45"/>
<ellipse cx="526.6" cy="101.3" rx="1.4" ry="1.0" transform="rotate(61 526.6 101.3)" fill="#fff" stroke="#111" stroke-width=".45"/>
<ellipse cx="547.7" cy="101.4" rx="1.8" ry="1.4" transform="rotate(30 547.7 101.4)" fill="#fff" stroke="#111" stroke-width=".45"/>
<ellipse cx="528.3" cy="97.3" rx="1.4" ry="0.9" transform="rotate(35 528.3 97.3)" fill="#fff" stroke="#111" stroke-width=".45"/>
<ellipse cx="499.7" cy="95.1" rx="1.3" ry="1.5" transform="rotate(164 499.7 95.1)" fill="#fff" stroke="#111" stroke-width=".45"/>
<ellipse cx="605.6" cy="107.0" rx="2.0" ry="1.2" transform="rotate(146 605.6 107.0)" fill="#fff" stroke="#111" stroke-width=".45"/>
<ellipse cx="496.3" cy="101.6" rx="1.5" ry="0.9" transform="rotate(103 496.3 101.6)" fill="#fff" stroke="#111" stroke-width=".45"/>
<ellipse cx="617.5" cy="98.0" rx="1.5" ry="0.9" transform="rotate(62 617.5 98.0)" fill="#fff" stroke="#111" stroke-width=".45"/>
<ellipse cx="608.3" cy="89.7" rx="0.9" ry="1.2" transform="rotate(81 608.3 89.7)" fill="#fff" stroke="#111" stroke-width=".45"/>
<ellipse cx="499.8" cy="101.3" rx="1.2" ry="1.1" transform="rotate(75 499.8 101.3)" fill="#fff" stroke="#111" stroke-width=".45"/>
<ellipse cx="560.1" cy="99.5" rx="1.2" ry="0.7" transform="rotate(32 560.1 99.5)" fill="#fff" stroke="#111" stroke-width=".45"/>
<ellipse cx="609.0" cy="99.2" rx="0.8" ry="1.4" transform="rotate(46 609.0 99.2)" fill="#fff" stroke="#111" stroke-width=".45"/>
<ellipse cx="501.1" cy="98.9" rx="1.0" ry="1.0" transform="rotate(100 501.1 98.9)" fill="#fff" stroke="#111" stroke-width=".45"/>
<ellipse cx="518.9" cy="99.7" rx="0.8" ry="1.1" transform="rotate(106 518.9 99.7)" fill="#fff" stroke="#111" stroke-width=".45"/>
<ellipse cx="499.1" cy="96.7" rx="0.8" ry="1.0" transform="rotate(155 499.1 96.7)" fill="#fff" stroke="#111" stroke-width=".45"/>
<ellipse cx="562.9" cy="102.3" rx="1.7" ry="0.7" transform="rotate(178 562.9 102.3)" fill="#fff" stroke="#111" stroke-width=".45"/>
<ellipse cx="586.1" cy="91.1" rx="1.8" ry="1.0" transform="rotate(31 586.1 91.1)" fill="#fff" stroke="#111" stroke-width=".45"/>
<ellipse cx="618.5" cy="99.5" rx="1.7" ry="0.7" transform="rotate(140 618.5 99.5)" fill="#fff" stroke="#111" stroke-width=".45"/>
<ellipse cx="496.0" cy="93.5" rx="1.2" ry="0.6" transform="rotate(107 496.0 93.5)" fill="#fff" stroke="#111" stroke-width=".45"/>
<ellipse cx="517.1" cy="94.7" rx="1.6" ry="1.0" transform="rotate(160 517.1 94.7)" fill="#fff" stroke="#111" stroke-width=".45"/>
<ellipse cx="572.5" cy="105.2" rx="1.4" ry="1.4" transform="rotate(157 572.5 105.2)" fill="#fff" stroke="#111" stroke-width=".45"/>
<ellipse cx="511.0" cy="102.8" rx="1.1" ry="1.3" transform="rotate(122 511.0 102.8)" fill="#fff" stroke="#111" stroke-width=".45"/>
<ellipse cx="600.2" cy="91.4" rx="1.2" ry="1.3" transform="rotate(171 600.2 91.4)" fill="#fff" stroke="#111" stroke-width=".45"/>
<ellipse cx="586.1" cy="90.0" rx="1.5" ry="0.7" transform="rotate(99 586.1 90.0)" fill="#fff" stroke="#111" stroke-width=".45"/>
<ellipse cx="597.2" cy="91.3" rx="1.9" ry="1.2" transform="rotate(46 597.2 91.3)" fill="#fff" stroke="#111" stroke-width=".45"/>
<ellipse cx="514.4" cy="97.4" rx="1.8" ry="1.1" transform="rotate(20 514.4 97.4)" fill="#fff" stroke="#111" stroke-width=".45"/>
<ellipse cx="491.0" cy="91.2" rx="1.7" ry="0.8" transform="rotate(100 491.0 91.2)" fill="#fff" stroke="#111" stroke-width=".45"/>
<ellipse cx="527.6" cy="101.8" rx="1.2" ry="0.7" transform="rotate(158 527.6 101.8)" fill="#fff" stroke="#111" stroke-width=".45"/>
<ellipse cx="561.3" cy="101.8" rx="1.8" ry="1.5" transform="rotate(2 561.3 101.8)" fill="#fff" stroke="#111" stroke-width=".45"/>
<ellipse cx="534.7" cy="92.0" rx="1.4" ry="1.4" transform="rotate(144 534.7 92.0)" fill="#fff" stroke="#111" stroke-width=".45"/>
<ellipse cx="493.0" cy="92.5" rx="1.8" ry="1.2" transform="rotate(71 493.0 92.5)" fill="#fff" stroke="#111" stroke-width=".45"/>
<ellipse cx="552.8" cy="92.1" rx="1.8" ry="1.0" transform="rotate(157 552.8 92.1)" fill="#fff" stroke="#111" stroke-width=".45"/>
<ellipse cx="571.1" cy="90.6" rx="1.1" ry="0.8" transform="rotate(161 571.1 90.6)" fill="#fff" stroke="#111" stroke-width=".45"/>
<ellipse cx="568.2" cy="90.0" rx="0.9" ry="0.9" transform="rotate(84 568.2 90.0)" fill="#fff" stroke="#111" stroke-width=".45"/>
<ellipse cx="566.5" cy="96.3" rx="1.2" ry="0.6" transform="rotate(104 566.5 96.3)" fill="#fff" stroke="#111" stroke-width=".45"/>
<ellipse cx="533.5" cy="89.6" rx="1.3" ry="1.5" transform="rotate(8 533.5 89.6)" fill="#fff" stroke="#111" stroke-width=".45"/>
<ellipse cx="508.0" cy="101.5" rx="1.1" ry="0.8" transform="rotate(90 508.0 101.5)" fill="#fff" stroke="#111" stroke-width=".45"/>
<ellipse cx="523.8" cy="99.6" rx="1.4" ry="1.5" transform="rotate(179 523.8 99.6)" fill="#fff" stroke="#111" stroke-width=".45"/>
<ellipse cx="492.8" cy="99.5" rx="1.7" ry="1.4" transform="rotate(139 492.8 99.5)" fill="#fff" stroke="#111" stroke-width=".45"/>
<ellipse cx="574.1" cy="100.8" rx="1.2" ry="0.9" transform="rotate(143 574.1 100.8)" fill="#fff" stroke="#111" stroke-width=".45"/>
<ellipse cx="606.6" cy="106.4" rx="1.6" ry="0.9" transform="rotate(137 606.6 106.4)" fill="#fff" stroke="#111" stroke-width=".45"/>
<ellipse cx="588.6" cy="98.5" rx="1.5" ry="0.9" transform="rotate(99 588.6 98.5)" fill="#fff" stroke="#111" stroke-width=".45"/>
<ellipse cx="543.3" cy="90.3" rx="1.1" ry="0.9" transform="rotate(178 543.3 90.3)" fill="#fff" stroke="#111" stroke-width=".45"/>
<ellipse cx="553.5" cy="95.9" rx="1.0" ry="0.8" transform="rotate(63 553.5 95.9)" fill="#fff" stroke="#111" stroke-width=".45"/>
<ellipse cx="506.6" cy="89.3" rx="1.8" ry="1.0" transform="rotate(80 506.6 89.3)" fill="#fff" stroke="#111" stroke-width=".45"/>
<ellipse cx="565.4" cy="94.7" rx="0.9" ry="0.7" transform="rotate(54 565.4 94.7)" fill="#fff" stroke="#111" stroke-width=".45"/>
<ellipse cx="530.1" cy="102.5" rx="1.4" ry="1.4" transform="rotate(61 530.1 102.5)" fill="#fff" stroke="#111" stroke-width=".45"/>
<ellipse cx="613.2" cy="99.9" rx="0.8" ry="0.8" transform="rotate(104 613.2 99.9)" fill="#fff" stroke="#111" stroke-width=".45"/>
<ellipse cx="622.2" cy="95.7" rx="1.7" ry="1.0" transform="rotate(156 622.2 95.7)" fill="#fff" stroke="#111" stroke-width=".45"/>
<ellipse cx="497.4" cy="98.1" rx="1.9" ry="0.8" transform="rotate(46 497.4 98.1)" fill="#fff" stroke="#111" stroke-width=".45"/>
<ellipse cx="491.3" cy="92.2" rx="1.0" ry="1.2" transform="rotate(39 491.3 92.2)" fill="#fff" stroke="#111" stroke-width=".45"/>
<ellipse cx="542.4" cy="92.9" rx="1.5" ry="1.4" transform="rotate(117 542.4 92.9)" fill="#fff" stroke="#111" stroke-width=".45"/>
<ellipse cx="514.9" cy="102.6" rx="2.0" ry="1.1" transform="rotate(14 514.9 102.6)" fill="#fff" stroke="#111" stroke-width=".45"/>
<ellipse cx="598.0" cy="105.2" rx="1.1" ry="0.7" transform="rotate(34 598.0 105.2)" fill="#fff" stroke="#111" stroke-width=".45"/>
<ellipse cx="561.1" cy="105.2" rx="1.5" ry="1.4" transform="rotate(38 561.1 105.2)" fill="#fff" stroke="#111" stroke-width=".45"/>
<ellipse cx="532.5" cy="102.9" rx="1.5" ry="1.0" transform="rotate(122 532.5 102.9)" fill="#fff" stroke="#111" stroke-width=".45"/>
<ellipse cx="534.0" cy="90.3" rx="1.2" ry="0.6" transform="rotate(113 534.0 90.3)" fill="#fff" stroke="#111" stroke-width=".45"/>
<ellipse cx="533.6" cy="98.2" rx="1.5" ry="0.8" transform="rotate(83 533.6 98.2)" fill="#fff" stroke="#111" stroke-width=".45"/>
<ellipse cx="490.0" cy="106.1" rx="1.4" ry="1.5" transform="rotate(10 490.0 106.1)" fill="#fff" stroke="#111" stroke-width=".45"/>
<ellipse cx="571.5" cy="102.5" rx="1.1" ry="0.7" transform="rotate(28 571.5 102.5)" fill="#fff" stroke="#111" stroke-width=".45"/>
<ellipse cx="507.6" cy="103.2" rx="0.8" ry="1.3" transform="rotate(76 507.6 103.2)" fill="#fff" stroke="#111" stroke-width=".45"/>
<ellipse cx="561.3" cy="100.0" rx="1.4" ry="1.2" transform="rotate(108 561.3 100.0)" fill="#fff" stroke="#111" stroke-width=".45"/>
<ellipse cx="533.1" cy="102.8" rx="1.0" ry="1.2" transform="rotate(137 533.1 102.8)" fill="#fff" stroke="#111" stroke-width=".45"/>
<ellipse cx="593.5" cy="94.9" rx="1.7" ry="1.5" transform="rotate(82 593.5 94.9)" fill="#fff" stroke="#111" stroke-width=".45"/>
<ellipse cx="526.0" cy="98.8" rx="1.9" ry="0.7" transform="rotate(2 526.0 98.8)" fill="#fff" stroke="#111" stroke-width=".45"/>
<ellipse cx="552.8" cy="101.2" rx="1.7" ry="0.9" transform="rotate(178 552.8 101.2)" fill="#fff" stroke="#111" stroke-width=".45"/>
<ellipse cx="519.2" cy="103.0" rx="0.8" ry="0.6" transform="rotate(24 519.2 103.0)" fill="#fff" stroke="#111" stroke-width=".45"/>
<ellipse cx="496.4" cy="98.4" rx="1.4" ry="0.8" transform="rotate(169 496.4 98.4)" fill="#fff" stroke="#111" stroke-width=".45"/>
<ellipse cx="537.8" cy="91.9" rx="0.9" ry="1.3" transform="rotate(166 537.8 91.9)" fill="#fff" stroke="#111" stroke-width=".45"/>
<ellipse cx="510.2" cy="89.7" rx="1.7" ry="0.8" transform="rotate(177 510.2 89.7)" fill="#fff" stroke="#111" stroke-width=".45"/>
<ellipse cx="555.9" cy="100.8" rx="1.1" ry="1.3" transform="rotate(83 555.9 100.8)" fill="#fff" stroke="#111" stroke-width=".45"/>
<ellipse cx="532.1" cy="105.7" rx="0.8" ry="1.3" transform="rotate(12 532.1 105.7)" fill="#fff" stroke="#111" stroke-width=".45"/>
<ellipse cx="575.8" cy="96.6" rx="1.8" ry="0.7" transform="rotate(102 575.8 96.6)" fill="#fff" stroke="#111" stroke-width=".45"/>
<ellipse cx="543.8" cy="106.0" rx="1.9" ry="1.2" transform="rotate(40 543.8 106.0)" fill="#fff" stroke="#111" stroke-width=".45"/>
<ellipse cx="522.4" cy="94.0" rx="1.3" ry="0.8" transform="rotate(37 522.4 94.0)" fill="#fff" stroke="#111" stroke-width=".45"/>
<ellipse cx="591.2" cy="101.0" rx="1.1" ry="1.5" transform="rotate(39 591.2 101.0)" fill="#fff" stroke="#111" stroke-width=".45"/>
<ellipse cx="565.5" cy="92.1" rx="1.8" ry="1.4" transform="rotate(48 565.5 92.1)" fill="#fff" stroke="#111" stroke-width=".45"/>
<ellipse cx="590.2" cy="104.3" rx="1.1" ry="0.9" transform="rotate(87 590.2 104.3)" fill="#fff" stroke="#111" stroke-width=".45"/>
<ellipse cx="609.1" cy="92.2" rx="1.6" ry="1.1" transform="rotate(82 609.1 92.2)" fill="#fff" stroke="#111" stroke-width=".45"/>
<ellipse cx="566.8" cy="105.4" rx="1.0" ry="1.4" transform="rotate(65 566.8 105.4)" fill="#fff" stroke="#111" stroke-width=".45"/>
<ellipse cx="594.0" cy="105.0" rx="0.9" ry="1.4" transform="rotate(179 594.0 105.0)" fill="#fff" stroke="#111" stroke-width=".45"/>
<ellipse cx="528.6" cy="89.6" rx="0.8" ry="1.5" transform="rotate(2 528.6 89.6)" fill="#fff" stroke="#111" stroke-width=".45"/>
<ellipse cx="611.9" cy="92.0" rx="1.7" ry="0.7" transform="rotate(30 611.9 92.0)" fill="#fff" stroke="#111" stroke-width=".45"/>
<ellipse cx="580.9" cy="90.9" rx="1.1" ry="1.4" transform="rotate(129 580.9 90.9)" fill="#fff" stroke="#111" stroke-width=".45"/>
<ellipse cx="607.9" cy="107.1" rx="0.7" ry="0.8" transform="rotate(143 607.9 107.1)" fill="#fff" stroke="#111" stroke-width=".45"/>
<ellipse cx="581.8" cy="89.9" rx="1.4" ry="0.8" transform="rotate(77 581.8 89.9)" fill="#fff" stroke="#111" stroke-width=".45"/>
<ellipse cx="502.4" cy="89.6" rx="2.0" ry="0.9" transform="rotate(158 502.4 89.6)" fill="#fff" stroke="#111" stroke-width=".45"/>
<ellipse cx="504.5" cy="98.1" rx="0.9" ry="1.0" transform="rotate(32 504.5 98.1)" fill="#fff" stroke="#111" stroke-width=".45"/>
<ellipse cx="581.2" cy="91.9" rx="1.7" ry="1.1" transform="rotate(20 581.2 91.9)" fill="#fff" stroke="#111" stroke-width=".45"/>
<ellipse cx="536.2" cy="98.3" rx="1.9" ry="0.9" transform="rotate(39 536.2 98.3)" fill="#fff" stroke="#111" stroke-width=".45"/>
<ellipse cx="619.5" cy="105.4" rx="1.7" ry="0.8" transform="rotate(32 619.5 105.4)" fill="#fff" stroke="#111" stroke-width=".45"/>
<ellipse cx="524.1" cy="90.5" rx="0.8" ry="1.1" transform="rotate(73 524.1 90.5)" fill="#fff" stroke="#111" stroke-width=".45"/>
<ellipse cx="563.7" cy="95.8" rx="0.7" ry="1.2" transform="rotate(118 563.7 95.8)" fill="#fff" stroke="#111" stroke-width=".45"/>
<ellipse cx="562.0" cy="99.2" rx="1.6" ry="1.5" transform="rotate(157 562.0 99.2)" fill="#fff" stroke="#111" stroke-width=".45"/>
<ellipse cx="585.6" cy="96.5" rx="1.1" ry="1.0" transform="rotate(175 585.6 96.5)" fill="#fff" stroke="#111" stroke-width=".45"/>
<ellipse cx="540.7" cy="96.3" rx="1.2" ry="0.7" transform="rotate(180 540.7 96.3)" fill="#fff" stroke="#111" stroke-width=".45"/>
<ellipse cx="488.9" cy="100.3" rx="1.9" ry="0.8" transform="rotate(110 488.9 100.3)" fill="#fff" stroke="#111" stroke-width=".45"/>
<ellipse cx="539.4" cy="93.6" rx="1.0" ry="0.7" transform="rotate(152 539.4 93.6)" fill="#fff" stroke="#111" stroke-width=".45"/>
<ellipse cx="594.6" cy="105.8" rx="0.8" ry="1.2" transform="rotate(58 594.6 105.8)" fill="#fff" stroke="#111" stroke-width=".45"/>
<ellipse cx="575.9" cy="99.2" rx="1.1" ry="1.5" transform="rotate(0 575.9 99.2)" fill="#fff" stroke="#111" stroke-width=".45"/>
<ellipse cx="589.5" cy="104.8" rx="1.4" ry="1.1" transform="rotate(179 589.5 104.8)" fill="#fff" stroke="#111" stroke-width=".45"/>
<ellipse cx="520.0" cy="100.7" rx="1.7" ry="0.9" transform="rotate(128 520.0 100.7)" fill="#fff" stroke="#111" stroke-width=".45"/>
<ellipse cx="541.6" cy="98.8" rx="1.5" ry="1.2" transform="rotate(58 541.6 98.8)" fill="#fff" stroke="#111" stroke-width=".45"/>
<ellipse cx="573.5" cy="99.1" rx="1.0" ry="1.2" transform="rotate(48 573.5 99.1)" fill="#fff" stroke="#111" stroke-width=".45"/>
<ellipse cx="611.5" cy="97.9" rx="1.6" ry="1.1" transform="rotate(86 611.5 97.9)" fill="#fff" stroke="#111" stroke-width=".45"/>
<ellipse cx="518.2" cy="91.8" rx="1.9" ry="1.1" transform="rotate(94 518.2 91.8)" fill="#fff" stroke="#111" stroke-width=".45"/>
<ellipse cx="559.8" cy="104.1" rx="1.0" ry="0.8" transform="rotate(148 559.8 104.1)" fill="#fff" stroke="#111" stroke-width=".45"/>
<ellipse cx="550.7" cy="100.9" rx="1.8" ry="1.4" transform="rotate(156 550.7 100.9)" fill="#fff" stroke="#111" stroke-width=".45"/>
<ellipse cx="494.1" cy="96.2" rx="1.8" ry="1.3" transform="rotate(22 494.1 96.2)" fill="#fff" stroke="#111" stroke-width=".45"/>
<ellipse cx="509.1" cy="93.8" rx="0.8" ry="0.9" transform="rotate(145 509.1 93.8)" fill="#fff" stroke="#111" stroke-width=".45"/>
<ellipse cx="558.9" cy="97.5" rx="0.8" ry="1.0" transform="rotate(179 558.9 97.5)" fill="#fff" stroke="#111" stroke-width=".45"/>
<ellipse cx="582.5" cy="97.4" rx="1.3" ry="1.3" transform="rotate(137 582.5 97.4)" fill="#fff" stroke="#111" stroke-width=".45"/>
<ellipse cx="508.5" cy="101.6" rx="1.2" ry="1.1" transform="rotate(43 508.5 101.6)" fill="#fff" stroke="#111" stroke-width=".45"/>
<ellipse cx="538.5" cy="95.4" rx="1.2" ry="0.6" transform="rotate(36 538.5 95.4)" fill="#fff" stroke="#111" stroke-width=".45"/>
<ellipse cx="565.6" cy="90.3" rx="0.9" ry="1.2" transform="rotate(49 565.6 90.3)" fill="#fff" stroke="#111" stroke-width=".45"/>
<ellipse cx="532.2" cy="93.6" rx="1.8" ry="0.7" transform="rotate(115 532.2 93.6)" fill="#fff" stroke="#111" stroke-width=".45"/>
<ellipse cx="604.8" cy="92.9" rx="1.3" ry="1.3" transform="rotate(111 604.8 92.9)" fill="#fff" stroke="#111" stroke-width=".45"/>
</g>
<rect class="w" x="499.4" y="88.9" width="5.6" height="12.0" />
<line class="t" x1="499.5" y1="89.2" x2="499.5" y2="101.0" />
<line class="t" x1="505.5" y1="89.2" x2="505.5" y2="101.0" />
<line class="t" x1="499.4" y1="101.5" x2="505.0" y2="101.5" />
<rect class="w" x="551.6" y="88.9" width="5.6" height="12.0" />
<line class="t" x1="551.5" y1="89.2" x2="551.5" y2="101.0" />
<line class="t" x1="557.5" y1="89.2" x2="557.5" y2="101.0" />
<line class="t" x1="551.6" y1="101.5" x2="557.2" y2="101.5" />
<rect class="w" x="606.0" y="88.9" width="5.8" height="12.0" />
<line class="t" x1="606.5" y1="89.2" x2="606.5" y2="101.0" />
<line class="t" x1="611.5" y1="89.2" x2="611.5" y2="101.0" />
<line class="t" x1="606.0" y1="101.5" x2="611.8" y2="101.5" />
<line class="t" x1="488.2" y1="89.5" x2="623.9" y2="89.5" />
<line class="t" x1="488.2" y1="107.5" x2="623.9" y2="107.5" />
<line class="m" x1="502.5" y1="89.0" x2="502.5" y2="100.5" />
<line class="m" x1="554.5" y1="89.0" x2="554.5" y2="100.5" />
<line class="m" x1="608.5" y1="89.0" x2="608.5" y2="100.5" />
<text class="d" x="549.9" y="120.6" style="font-size:7.4px;stroke-width:.15" textLength="13.7" lengthAdjust="spacingAndGlyphs">3450</text>
<line class="t" x1="488.2" y1="121.5" x2="623.9" y2="121.5" />
<line class="t" x1="488.5" y1="118.0" x2="488.5" y2="129.4" />
<line class="t" x1="623.5" y1="118.0" x2="623.5" y2="129.4" />
<line class="m" x1="471.0" y1="129.5" x2="623.9" y2="129.5" />
<line class="m" x1="471.0" y1="157.5" x2="624.8" y2="157.5" />
<line class="m" x1="488.5" y1="129.2" x2="488.5" y2="157.7" />
<line class="m" x1="623.5" y1="129.2" x2="623.5" y2="157.7" />
<line class="t" x1="473.5" y1="129.2" x2="473.5" y2="157.7" />
<line class="t" x1="485.5" y1="136.9" x2="485.5" y2="152.3" />
<line class="t" x1="482.5" y1="136.5" x2="488.2" y2="136.5" />
<line class="t" x1="482.5" y1="152.5" x2="488.2" y2="152.5" />
<line class="t" x1="488.2" y1="136.5" x2="630.0" y2="136.5" stroke-dasharray="3.2 2.6"/>
<line class="t" x1="488.2" y1="152.5" x2="630.0" y2="152.5" stroke-dasharray="3.2 2.6"/>
<line class="t" x1="502.5" y1="128.0" x2="502.5" y2="161.0" />
<rect class="m" x="498.5" y="133.5" width="7.0" height="7.0" />
<line class="g" x1="497.2" y1="136.5" x2="506.8" y2="136.5" />
<rect class="m" x="498.5" y="148.5" width="7.0" height="7.0" />
<line class="g" x1="497.2" y1="152.5" x2="506.8" y2="152.5" />
<line class="t" x1="553.5" y1="128.0" x2="553.5" y2="161.0" />
<rect class="m" x="550.5" y="133.5" width="7.0" height="7.0" />
<line class="g" x1="548.9" y1="136.5" x2="558.5" y2="136.5" />
<rect class="m" x="550.5" y="148.5" width="7.0" height="7.0" />
<line class="g" x1="548.9" y1="152.5" x2="558.5" y2="152.5" />
<line class="t" x1="608.5" y1="128.0" x2="608.5" y2="161.0" />
<rect class="m" x="605.5" y="133.5" width="7.0" height="7.0" />
<line class="g" x1="603.8" y1="136.5" x2="613.4" y2="136.5" />
<rect class="m" x="605.5" y="148.5" width="7.0" height="7.0" />
<line class="g" x1="603.8" y1="152.5" x2="613.4" y2="152.5" />
<text class="d" transform="translate(472.4,151.2) rotate(-90)" textLength="15.2" lengthAdjust="spacingAndGlyphs">1500</text>
<text class="d" transform="translate(484.6,151.2) rotate(-90)" textLength="15.2" lengthAdjust="spacingAndGlyphs">1208</text>
<text class="d" x="510.7" y="145.2" textLength="25.4" lengthAdjust="spacingAndGlyphs">150X150</text>
<line class="t" x1="510.0" y1="146.5" x2="536.5" y2="146.5" />
<text class="N" x="524.7" y="195.6" textLength="13.2" lengthAdjust="spacingAndGlyphs">12</text>
<path class="m" d="M526.9,197.5 L541.1,197.5 L544.9,212.4" />
<text class="N" x="577.8" y="195.6" textLength="12.8" lengthAdjust="spacingAndGlyphs">11</text>
<path class="m" d="M592.3,197.5 L579.8,197.5 L566.1,234.9" />
<rect class="m" x="544.5" y="198.5" width="24.0" height="31.0" />
<line class="t" x1="556.5" y1="198.7" x2="556.5" y2="241.0" />
<path class="m" d="M548.6,198.7 C548.8,188 552,179 562.4,177.4 L571.1,177" />
<path class="m" d="M556.6,198.7 C556.8,190 560,185.3 565,184.6 L571.1,184.2" />
<path class="m" d="M568.6,198.7 C568.8,194 569.5,191 571.1,190" />
<line class="m" x1="571.5" y1="177.0" x2="571.5" y2="190.0" />
<line class="m" x1="549.5" y1="229.4" x2="549.5" y2="244.4" />
<line class="m" x1="566.5" y1="229.4" x2="566.5" y2="244.4" />
<line class="b" x1="547.0" y1="234.5" x2="568.0" y2="234.5" />
<line class="b" x1="547.0" y1="238.5" x2="568.0" y2="238.5" />
<line class="t" x1="548.5" y1="233.5" x2="548.5" y2="240.0" />
<line class="t" x1="567.5" y1="233.5" x2="567.5" y2="240.0" />
<path class="b" d="M568.3,241 L568.3,236 C568.3,231.3 576.6,231.3 576.8,236 L576.8,241 Z" />
<line class="t" x1="570.5" y1="235.0" x2="570.5" y2="241.0" />
<path class="m" d="M526.2,244.4 L597.3,244.4 C596.6,248 596.6,250 598.5,252 C601,254.5 603.6,256 603.6,257.4 C603.6,259 599,261 598,263.5 C597,266 596,268.5 594.9,271.1 L528.7,271.1 C530,268 528.7,266 527,263.6 C526,262 531.9,259.5 531.9,257.4 C531.9,255.5 527,253.5 525.8,251.5 C524.8,249.5 525.5,247 526.2,244.4 Z" />
<line class="t" x1="485.5" y1="257.5" x2="623.5" y2="257.5" stroke-dasharray="54 5 14 11 34 6 14 99"/>
<line class="m" x1="480.5" y1="282.5" x2="669.3" y2="282.5" />
<line class="m" x1="480.5" y1="293.5" x2="669.3" y2="293.5" />
<line class="m" x1="480.5" y1="305.5" x2="669.3" y2="305.5" />
<line class="m" x1="480.5" y1="316.5" x2="669.3" y2="316.5" />
<line class="m" x1="480.5" y1="328.5" x2="669.3" y2="328.5" />
<line class="m" x1="480.5" y1="339.5" x2="669.3" y2="339.5" />
<line class="m" x1="480.5" y1="351.5" x2="669.3" y2="351.5" />
<line class="m" x1="480.5" y1="362.5" x2="669.3" y2="362.5" />
<line class="m" x1="480.5" y1="374.5" x2="669.3" y2="374.5" />
<line class="m" x1="480.5" y1="385.5" x2="669.3" y2="385.5" />
<line class="m" x1="480.5" y1="397.5" x2="669.3" y2="397.5" />
<line class="m" x1="480.5" y1="407.5" x2="669.3" y2="407.5" />
<line class="m" x1="480.5" y1="418.5" x2="669.3" y2="418.5" />
<line class="m" x1="480.5" y1="429.5" x2="669.3" y2="429.5" />
<line class="m" x1="480.5" y1="282.1" x2="480.5" y2="429.9" />
<line class="m" x1="497.5" y1="282.1" x2="497.5" y2="429.9" />
<line class="m" x1="541.5" y1="282.1" x2="541.5" y2="429.9" />
<line class="m" x1="578.5" y1="282.1" x2="578.5" y2="429.9" />
<line class="m" x1="604.5" y1="282.1" x2="604.5" y2="429.9" />
<line class="m" x1="632.5" y1="282.1" x2="632.5" y2="429.9" />
<text class="tn" x="484.6" y="290.7" textLength="7.0" lengthAdjust="spacingAndGlyphs">12</text>
<text class="tc" x="499.5" y="290.1" textLength="31.0" lengthAdjust="spacingAndGlyphs">GX7-04-150</text>
<text class="tm" x="546" y="290.3" textLength="26.4" lengthAdjust="spacingAndGlyphs">Vent muffler</text>
<text class="tc" x="584.2" y="290.4" textLength="15.2" lengthAdjust="spacingAndGlyphs">DN150</text>
<text class="tn" x="484.6" y="302.3" textLength="7.0" lengthAdjust="spacingAndGlyphs">11</text>
<text class="tc" x="499.5" y="301.7" textLength="31.0" lengthAdjust="spacingAndGlyphs">GX7-02-150</text>
<text class="tm" x="539.5" y="301.9" textLength="44.0" lengthAdjust="spacingAndGlyphs">Vent butterfly valve</text>
<text class="tc" x="584.2" y="302.0" textLength="15.2" lengthAdjust="spacingAndGlyphs">DN150</text>
<text class="tm" x="636.8" y="298.7" textLength="27.2" lengthAdjust="spacingAndGlyphs" style="font-size:6.2px">Wafer type</text>
<text class="tn" x="484.6" y="313.9" textLength="7.0" lengthAdjust="spacingAndGlyphs">10</text>
<text class="tc" x="499.5" y="313.3" textLength="31.0" lengthAdjust="spacingAndGlyphs">GX7-04-350</text>
<text class="tm" x="544" y="313.5" textLength="30.8" lengthAdjust="spacingAndGlyphs">Outlet muffler</text>
<text class="tc" x="584.2" y="313.6" textLength="15.2" lengthAdjust="spacingAndGlyphs">DN350</text>
<text class="tm" x="634" y="309.6" textLength="35" lengthAdjust="spacingAndGlyphs" style="font-size:6.2px">Double flange</text>
<text class="tn" x="486.6" y="325.4" textLength="3.5" lengthAdjust="spacingAndGlyphs">9</text>
<text class="tc" x="499.5" y="324.8" textLength="31.0" lengthAdjust="spacingAndGlyphs">GX7-05-350</text>
<text class="tm" x="542" y="325.0" textLength="37.4" lengthAdjust="spacingAndGlyphs">Outlet soft joint</text>
<text class="tc" x="584.2" y="325.1" textLength="15.2" lengthAdjust="spacingAndGlyphs">DN350</text>
<text class="tn" x="486.6" y="337.0" textLength="3.5" lengthAdjust="spacingAndGlyphs">8</text>
<text class="tc" x="499.5" y="336.4" textLength="31.0" lengthAdjust="spacingAndGlyphs">GX7-02-350</text>
<text class="tm" x="540" y="336.6" textLength="48.4" lengthAdjust="spacingAndGlyphs">Outlet Butterfly Valve</text>
<text class="tc" x="584.2" y="336.7" textLength="15.2" lengthAdjust="spacingAndGlyphs">DN350</text>
<text class="tm" x="636.8" y="335.4" textLength="27.2" lengthAdjust="spacingAndGlyphs" style="font-size:6.2px">Wafer type</text>
<text class="tn" x="486.6" y="348.5" textLength="3.5" lengthAdjust="spacingAndGlyphs">7</text>
<text class="tc" x="499.5" y="347.9" textLength="31.0" lengthAdjust="spacingAndGlyphs">GX7-03-355</text>
<text class="tm" x="545" y="348.1" textLength="30.8" lengthAdjust="spacingAndGlyphs">Inverter motor</text>
<text class="tc" x="584.2" y="348.2" textLength="15.2" lengthAdjust="spacingAndGlyphs">200KW</text>
<text class="tn" x="486.6" y="360.0" textLength="3.5" lengthAdjust="spacingAndGlyphs">6</text>
<text class="tc" x="499.5" y="359.4" textLength="27.9" lengthAdjust="spacingAndGlyphs">GX7-07-TD</text>
<text class="tm" x="545" y="359.6" textLength="17.6" lengthAdjust="spacingAndGlyphs">Coupling</text>
<text class="tc" x="583.2" y="359.7" textLength="6.1" lengthAdjust="spacingAndGlyphs">TD</text>
<text class="tn" x="486.6" y="371.4" textLength="3.5" lengthAdjust="spacingAndGlyphs">5</text>
<text class="tc" x="499.5" y="370.8" textLength="31.0" lengthAdjust="spacingAndGlyphs">GX7-02-450</text>
<text class="tm" x="537.5" y="371.0" textLength="46.2" lengthAdjust="spacingAndGlyphs">Inlet Butterfly Valve</text>
<text class="tc" x="584.2" y="371.1" textLength="15.2" lengthAdjust="spacingAndGlyphs">DN450</text>
<text class="tm" x="636.8" y="370.7" textLength="27.2" lengthAdjust="spacingAndGlyphs" style="font-size:6.2px">Wafer type</text>
<text class="tn" x="486.6" y="382.9" textLength="3.5" lengthAdjust="spacingAndGlyphs">4</text>
<text class="tc" x="499.5" y="382.3" textLength="31.0" lengthAdjust="spacingAndGlyphs">GX7-04-450</text>
<text class="tm" x="545" y="382.5" textLength="30.8" lengthAdjust="spacingAndGlyphs">Filter Muffler</text>
<text class="tc" x="584.2" y="382.6" textLength="15.2" lengthAdjust="spacingAndGlyphs">DN450</text>
<text class="tn" x="486.6" y="394.3" textLength="3.5" lengthAdjust="spacingAndGlyphs">3</text>
<text class="tc" x="499.5" y="393.7" textLength="27.9" lengthAdjust="spacingAndGlyphs">GX7-01-02</text>
<text class="tm" x="545" y="393.9" textLength="17.6" lengthAdjust="spacingAndGlyphs">Fan body</text>
<text class="tn" x="486.6" y="405.6" textLength="3.5" lengthAdjust="spacingAndGlyphs">2</text>
<text class="tc" x="499.5" y="405.0" textLength="31.0" lengthAdjust="spacingAndGlyphs">GX7-01-315</text>
<text class="tm" x="545" y="405.2" textLength="22.0" lengthAdjust="spacingAndGlyphs">Motor base</text>
<text class="tn" x="486.6" y="416.4" textLength="3.5" lengthAdjust="spacingAndGlyphs">1</text>
<text class="tc" x="499.5" y="415.8" textLength="27.9" lengthAdjust="spacingAndGlyphs">GX7-01-00</text>
<text class="tm" x="547" y="416.0" textLength="24.2" lengthAdjust="spacingAndGlyphs">Shared base</text>
<text class="q" x="25.5" y="444.40" textLength="25.0" lengthAdjust="spacingAndGlyphs">Requiremts:</text>
<text class="q" x="25.5" y="448.89" textLength="358.8" lengthAdjust="spacingAndGlyphs">1. The fan is a right-handed fan (viewed from the motor end). In this figure, the intake direction is upward, and the exhaust direction is the upper left row.</text>
<text class="q" x="25.5" y="453.38" textLength="622.3" lengthAdjust="spacingAndGlyphs">2. The pipelines are in the order shown in the figure. It should be smooth, concise, beautiful, reduce temperature rise and pipe resistance, and the related attached pipes should be combined and connected according to the diagram. If you have any questions, you can contact.</text>
<text class="q" x="25.5" y="457.87" textLength="633.6" lengthAdjust="spacingAndGlyphs">3. The weight and torque of the inlet and outlet pipes, that is, the installation pipes, are not allowed to act directly on the shell, and the soft joints are concentric and moderately stressed. Fix it with a support frame or a spreader, and pay attention to the inner conduction</text>
<text class="q" x="25.5" y="462.36" textLength="93.1" lengthAdjust="spacingAndGlyphs">direction when installing the soft joint.</text>
<text class="q" x="25.5" y="466.85" textLength="524.6" lengthAdjust="spacingAndGlyphs">4. The vertical and horizontal stiffness of the foundation should meet the fan load requirements, the foundation surface should be flat ≤ 2B, and the anchor bolt holes and the shared base should adopt the secondary grouting method.</text>
<text class="q" x="25.5" y="471.34" textLength="272.5" lengthAdjust="spacingAndGlyphs">5. This picture is the known information structure, which will change when the parameters and configuration are changed.</text>
<text class="q" x="25.5" y="475.83" textLength="533.7" lengthAdjust="spacingAndGlyphs">6. This picture is the initial design of the model selection, and the final size has some changes. The electrical control should be connected to each other according to the fan operation requirements, and the final confirmation by both</text>
<text class="q" x="25.5" y="480.32" textLength="50.0" lengthAdjust="spacingAndGlyphs">parties shall prevail.</text>
</svg>
</body></html>
